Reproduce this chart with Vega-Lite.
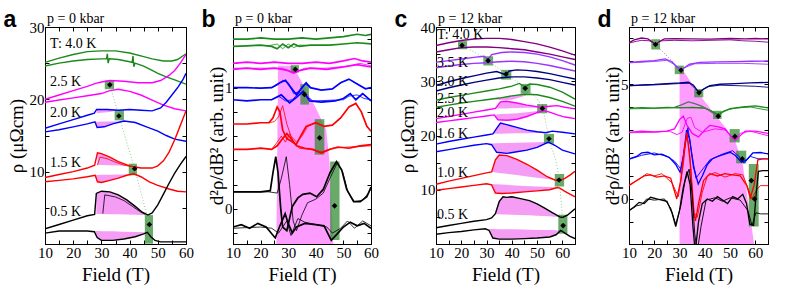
{
"$schema":"https://vega.github.io/schema/vega-lite/v6.json",
"padding":{"left":2,"top":8,"right":2,"bottom":2},
"config":{"view":{"stroke":"black","strokeWidth":1},"font":"Liberation Serif",
"axis":{"labelFont":"Liberation Serif","titleFont":"Liberation Serif","labelFontSize":15,"titleFontSize":19,"titleFontWeight":"normal","labelColor":"black","titleColor":"black","tickColor":"black","domainColor":"black","grid":false,"tickSize":-4,"labelPadding":5,"labelFlush":false,"labelOverlap":false,"labelAngle":0},
"axisBottom":{"labelPadding":5,"titlePadding":5},
"title":{"font":"Liberation Serif","fontSize":14,"fontWeight":"normal","color":"black","anchor":"start","frame":"group","offset":1}},
"datasets":{
"a_lines":[
{"k":"a40u","T":"4.0 K","w":"thick","x":10,"y":25.1},{"k":"a40u","T":"4.0 K","w":"thick","x":15,"y":25.7},{"k":"a40u","T":"4.0 K","w":"thick","x":20,"y":26.2},{"k":"a40u","T":"4.0 K","w":"thick","x":25,"y":26.6},{"k":"a40u","T":"4.0 K","w":"thick","x":30,"y":26.7},{"k":"a40u","T":"4.0 K","w":"thick","x":35,"y":26.7},{"k":"a40u","T":"4.0 K","w":"thick","x":40,"y":26.4},{"k":"a40u","T":"4.0 K","w":"thick","x":45,"y":25.9},{"k":"a40u","T":"4.0 K","w":"thick","x":48,"y":25.6},{"k":"a40u","T":"4.0 K","w":"thick","x":52,"y":25.3},{"k":"a40u","T":"4.0 K","w":"thick","x":55,"y":25.3},{"k":"a40u","T":"4.0 K","w":"thick","x":57,"y":25.5},{"k":"a40u","T":"4.0 K","w":"thick","x":60,"y":26.3},
{"k":"a40l","T":"4.0 K","w":"thick","x":10,"y":24.6},{"k":"a40l","T":"4.0 K","w":"thick","x":15,"y":25.0},{"k":"a40l","T":"4.0 K","w":"thick","x":20,"y":25.3},{"k":"a40l","T":"4.0 K","w":"thick","x":25,"y":25.5},{"k":"a40l","T":"4.0 K","w":"thick","x":30,"y":25.6},{"k":"a40l","T":"4.0 K","w":"thick","x":31.8,"y":25.6},{"k":"a40l","T":"4.0 K","w":"thick","x":32.1,"y":26.3},{"k":"a40l","T":"4.0 K","w":"thick","x":32.4,"y":25.0},{"k":"a40l","T":"4.0 K","w":"thick","x":32.8,"y":25.6},{"k":"a40l","T":"4.0 K","w":"thick","x":36,"y":25.5},{"k":"a40l","T":"4.0 K","w":"thick","x":40,"y":25.2},{"k":"a40l","T":"4.0 K","w":"thick","x":40.9,"y":25.1},{"k":"a40l","T":"4.0 K","w":"thick","x":41.2,"y":26.0},{"k":"a40l","T":"4.0 K","w":"thick","x":41.5,"y":24.5},{"k":"a40l","T":"4.0 K","w":"thick","x":41.9,"y":25.0},{"k":"a40l","T":"4.0 K","w":"thick","x":45,"y":24.6},{"k":"a40l","T":"4.0 K","w":"thick","x":48,"y":24.0},{"k":"a40l","T":"4.0 K","w":"thick","x":50,"y":23.6},{"k":"a40l","T":"4.0 K","w":"thick","x":53,"y":23.1},{"k":"a40l","T":"4.0 K","w":"thick","x":56,"y":22.7},{"k":"a40l","T":"4.0 K","w":"thick","x":60,"y":22.1},
{"k":"a25u","T":"2.5 K","w":"thick","x":10,"y":20.0},{"k":"a25u","T":"2.5 K","w":"thick","x":15,"y":20.6},{"k":"a25u","T":"2.5 K","w":"thick","x":20,"y":21.2},{"k":"a25u","T":"2.5 K","w":"thick","x":25,"y":21.8},{"k":"a25u","T":"2.5 K","w":"thick","x":28,"y":22.2},{"k":"a25u","T":"2.5 K","w":"thick","x":30,"y":22.4},{"k":"a25u","T":"2.5 K","w":"thick","x":33,"y":22.6},{"k":"a25u","T":"2.5 K","w":"thick","x":38,"y":22.5},{"k":"a25u","T":"2.5 K","w":"thick","x":43,"y":22.3},{"k":"a25u","T":"2.5 K","w":"thick","x":48,"y":22.3},{"k":"a25u","T":"2.5 K","w":"thick","x":51,"y":22.6},{"k":"a25u","T":"2.5 K","w":"thick","x":54,"y":23.3},{"k":"a25u","T":"2.5 K","w":"thick","x":56,"y":24.0},{"k":"a25u","T":"2.5 K","w":"thick","x":58,"y":25.0},{"k":"a25u","T":"2.5 K","w":"thick","x":60,"y":26.2},
{"k":"a25l","T":"2.5 K","w":"thick","x":10,"y":19.6},{"k":"a25l","T":"2.5 K","w":"thick","x":15,"y":19.9},{"k":"a25l","T":"2.5 K","w":"thick","x":20,"y":20.2},{"k":"a25l","T":"2.5 K","w":"thick","x":25,"y":20.5},{"k":"a25l","T":"2.5 K","w":"thick","x":30,"y":20.8},{"k":"a25l","T":"2.5 K","w":"thick","x":33,"y":21.2},{"k":"a25l","T":"2.5 K","w":"thick","x":36,"y":21.4},{"k":"a25l","T":"2.5 K","w":"thick","x":40,"y":21.1},{"k":"a25l","T":"2.5 K","w":"thick","x":44,"y":20.6},{"k":"a25l","T":"2.5 K","w":"thick","x":48,"y":19.9},{"k":"a25l","T":"2.5 K","w":"thick","x":52,"y":19.2},{"k":"a25l","T":"2.5 K","w":"thick","x":56,"y":18.7},{"k":"a25l","T":"2.5 K","w":"thick","x":60,"y":18.4},
{"k":"a20u","T":"2.0 K","w":"thick","x":10,"y":16.0},{"k":"a20u","T":"2.0 K","w":"thick","x":15,"y":16.6},{"k":"a20u","T":"2.0 K","w":"thick","x":20,"y":17.2},{"k":"a20u","T":"2.0 K","w":"thick","x":25,"y":17.8},{"k":"a20u","T":"2.0 K","w":"thick","x":27.5,"y":18.1},{"k":"a20u","T":"2.0 K","w":"thick","x":28.3,"y":18.6},{"k":"a20u","T":"2.0 K","w":"thick","x":32,"y":18.6},{"k":"a20u","T":"2.0 K","w":"thick","x":36,"y":18.5},{"k":"a20u","T":"2.0 K","w":"thick","x":40,"y":18.6},{"k":"a20u","T":"2.0 K","w":"thick","x":44,"y":18.5},{"k":"a20u","T":"2.0 K","w":"thick","x":48,"y":18.4},{"k":"a20u","T":"2.0 K","w":"thick","x":51,"y":18.8},{"k":"a20u","T":"2.0 K","w":"thick","x":53,"y":19.6},{"k":"a20u","T":"2.0 K","w":"thick","x":55,"y":20.6},{"k":"a20u","T":"2.0 K","w":"thick","x":57,"y":21.6},{"k":"a20u","T":"2.0 K","w":"thick","x":59,"y":22.8},{"k":"a20u","T":"2.0 K","w":"thick","x":60,"y":23.6},
{"k":"a20l","T":"2.0 K","w":"thick","x":10,"y":15.5},{"k":"a20l","T":"2.0 K","w":"thick","x":15,"y":15.8},{"k":"a20l","T":"2.0 K","w":"thick","x":20,"y":16.2},{"k":"a20l","T":"2.0 K","w":"thick","x":25,"y":16.6},{"k":"a20l","T":"2.0 K","w":"thick","x":27.7,"y":16.9},{"k":"a20l","T":"2.0 K","w":"thick","x":28.5,"y":16.1},{"k":"a20l","T":"2.0 K","w":"thick","x":31,"y":16.2},{"k":"a20l","T":"2.0 K","w":"thick","x":34,"y":16.6},{"k":"a20l","T":"2.0 K","w":"thick","x":38,"y":17.0},{"k":"a20l","T":"2.0 K","w":"thick","x":42,"y":16.8},{"k":"a20l","T":"2.0 K","w":"thick","x":46,"y":16.2},{"k":"a20l","T":"2.0 K","w":"thick","x":50,"y":15.6},{"k":"a20l","T":"2.0 K","w":"thick","x":53,"y":15.0},{"k":"a20l","T":"2.0 K","w":"thick","x":56,"y":14.5},{"k":"a20l","T":"2.0 K","w":"thick","x":60,"y":14.2},
{"k":"a15u","T":"1.5 K","w":"thick","x":10,"y":9.2},{"k":"a15u","T":"1.5 K","w":"thick","x":15,"y":9.6},{"k":"a15u","T":"1.5 K","w":"thick","x":20,"y":10.0},{"k":"a15u","T":"1.5 K","w":"thick","x":25,"y":10.5},{"k":"a15u","T":"1.5 K","w":"thick","x":27.6,"y":10.9},{"k":"a15u","T":"1.5 K","w":"thick","x":28.6,"y":12.6},{"k":"a15u","T":"1.5 K","w":"thick","x":30,"y":12.5},{"k":"a15u","T":"1.5 K","w":"thick","x":33,"y":12.0},{"k":"a15u","T":"1.5 K","w":"thick","x":36,"y":11.4},{"k":"a15u","T":"1.5 K","w":"thick","x":40,"y":10.8},{"k":"a15u","T":"1.5 K","w":"thick","x":44,"y":10.5},{"k":"a15u","T":"1.5 K","w":"thick","x":48,"y":10.5},{"k":"a15u","T":"1.5 K","w":"thick","x":50,"y":10.8},{"k":"a15u","T":"1.5 K","w":"thick","x":52,"y":11.5},{"k":"a15u","T":"1.5 K","w":"thick","x":54,"y":12.7},{"k":"a15u","T":"1.5 K","w":"thick","x":56,"y":14.4},{"k":"a15u","T":"1.5 K","w":"thick","x":58,"y":16.4},{"k":"a15u","T":"1.5 K","w":"thick","x":60,"y":18.4},
{"k":"a15t","T":"1.5 K","w":"thin","x":28.6,"y":10.9},{"k":"a15t","T":"1.5 K","w":"thin","x":29.5,"y":12.0},{"k":"a15t","T":"1.5 K","w":"thin","x":32,"y":11.8},{"k":"a15t","T":"1.5 K","w":"thin","x":35,"y":11.3},{"k":"a15t","T":"1.5 K","w":"thin","x":38,"y":10.9},{"k":"a15t","T":"1.5 K","w":"thin","x":40.5,"y":10.7},
{"k":"a15l","T":"1.5 K","w":"thick","x":10,"y":8.6},{"k":"a15l","T":"1.5 K","w":"thick","x":15,"y":8.8},{"k":"a15l","T":"1.5 K","w":"thick","x":20,"y":9.0},{"k":"a15l","T":"1.5 K","w":"thick","x":25,"y":9.3},{"k":"a15l","T":"1.5 K","w":"thick","x":27.8,"y":9.5},{"k":"a15l","T":"1.5 K","w":"thick","x":28.6,"y":8.6},{"k":"a15l","T":"1.5 K","w":"thick","x":30,"y":8.5},{"k":"a15l","T":"1.5 K","w":"thick","x":33,"y":8.8},{"k":"a15l","T":"1.5 K","w":"thick","x":36,"y":9.1},{"k":"a15l","T":"1.5 K","w":"thick","x":39,"y":9.5},{"k":"a15l","T":"1.5 K","w":"thick","x":41.5,"y":9.7},{"k":"a15l","T":"1.5 K","w":"thick","x":44,"y":9.3},{"k":"a15l","T":"1.5 K","w":"thick","x":47,"y":8.6},{"k":"a15l","T":"1.5 K","w":"thick","x":50,"y":8.1},{"k":"a15l","T":"1.5 K","w":"thick","x":54,"y":7.6},{"k":"a15l","T":"1.5 K","w":"thick","x":57,"y":7.3},{"k":"a15l","T":"1.5 K","w":"thick","x":60,"y":7.2},
{"k":"a05u","T":"0.5 K","w":"thick","x":10,"y":2.1},{"k":"a05u","T":"0.5 K","w":"thick","x":15,"y":2.7},{"k":"a05u","T":"0.5 K","w":"thick","x":20,"y":3.3},{"k":"a05u","T":"0.5 K","w":"thick","x":25,"y":3.9},{"k":"a05u","T":"0.5 K","w":"thick","x":27.6,"y":4.1},{"k":"a05u","T":"0.5 K","w":"thick","x":28.2,"y":7.0},{"k":"a05u","T":"0.5 K","w":"thick","x":30,"y":7.3},{"k":"a05u","T":"0.5 K","w":"thick","x":33,"y":7.2},{"k":"a05u","T":"0.5 K","w":"thick","x":36,"y":6.8},{"k":"a05u","T":"0.5 K","w":"thick","x":39,"y":6.1},{"k":"a05u","T":"0.5 K","w":"thick","x":42,"y":5.2},{"k":"a05u","T":"0.5 K","w":"thick","x":44.5,"y":4.4},{"k":"a05u","T":"0.5 K","w":"thick","x":46.5,"y":4.0},{"k":"a05u","T":"0.5 K","w":"thick","x":48,"y":4.3},{"k":"a05u","T":"0.5 K","w":"thick","x":50,"y":5.4},{"k":"a05u","T":"0.5 K","w":"thick","x":52,"y":6.9},{"k":"a05u","T":"0.5 K","w":"thick","x":54,"y":8.4},{"k":"a05u","T":"0.5 K","w":"thick","x":56,"y":9.8},{"k":"a05u","T":"0.5 K","w":"thick","x":58,"y":11.0},{"k":"a05u","T":"0.5 K","w":"thick","x":60,"y":12.1},
{"k":"a05t","T":"0.5 K","w":"thin","x":30.5,"y":4.2},{"k":"a05t","T":"0.5 K","w":"thin","x":31.2,"y":6.8},{"k":"a05t","T":"0.5 K","w":"thin","x":35,"y":6.5},{"k":"a05t","T":"0.5 K","w":"thin","x":38,"y":6.0},{"k":"a05t","T":"0.5 K","w":"thin","x":41,"y":5.2},{"k":"a05t","T":"0.5 K","w":"thin","x":44,"y":4.4},{"k":"a05t","T":"0.5 K","w":"thin","x":45.5,"y":4.1},
{"k":"a05l","T":"0.5 K","w":"thick","x":10,"y":1.5},{"k":"a05l","T":"0.5 K","w":"thick","x":15,"y":1.8},{"k":"a05l","T":"0.5 K","w":"thick","x":20,"y":1.8},{"k":"a05l","T":"0.5 K","w":"thick","x":25,"y":1.8},{"k":"a05l","T":"0.5 K","w":"thick","x":27.5,"y":1.7},{"k":"a05l","T":"0.5 K","w":"thick","x":28.5,"y":0.9},{"k":"a05l","T":"0.5 K","w":"thick","x":30,"y":0.5},{"k":"a05l","T":"0.5 K","w":"thick","x":34,"y":0.5},{"k":"a05l","T":"0.5 K","w":"thick","x":38,"y":0.7},{"k":"a05l","T":"0.5 K","w":"thick","x":42,"y":1.0},{"k":"a05l","T":"0.5 K","w":"thick","x":45,"y":1.4},{"k":"a05l","T":"0.5 K","w":"thick","x":46.3,"y":1.6},{"k":"a05l","T":"0.5 K","w":"thick","x":47.5,"y":1.0},{"k":"a05l","T":"0.5 K","w":"thick","x":49,"y":0.5},{"k":"a05l","T":"0.5 K","w":"thick","x":51,"y":0.3},{"k":"a05l","T":"0.5 K","w":"thick","x":55,"y":0.3},{"k":"a05l","T":"0.5 K","w":"thick","x":60,"y":0.3}
],
"a_fill":[
{"k":"f1","x":28.2,"y":7.0,"y2":4.15},{"k":"f1","x":30,"y":7.3,"y2":4.14},{"k":"f1","x":33,"y":7.2,"y2":4.12},{"k":"f1","x":36,"y":6.8,"y2":4.1},{"k":"f1","x":39,"y":6.1,"y2":4.08},{"k":"f1","x":42,"y":5.2,"y2":4.05},{"k":"f1","x":44.5,"y":4.4,"y2":4.02},{"k":"f1","x":46.5,"y":4.0,"y2":4.0},
{"k":"f2","x":27.8,"y":1.8,"y2":1.65},{"k":"f2","x":28.5,"y":1.79,"y2":0.9},{"k":"f2","x":30,"y":1.78,"y2":0.5},{"k":"f2","x":34,"y":1.75,"y2":0.5},{"k":"f2","x":38,"y":1.7,"y2":0.7},{"k":"f2","x":42,"y":1.66,"y2":1.0},{"k":"f2","x":45,"y":1.62,"y2":1.4},{"k":"f2","x":46.3,"y":1.6,"y2":1.6},
{"k":"f3","x":28.6,"y":12.6,"y2":10.95},{"k":"f3","x":30,"y":12.5,"y2":10.93},{"k":"f3","x":33,"y":12.0,"y2":10.9},{"k":"f3","x":36,"y":11.4,"y2":10.85},{"k":"f3","x":40,"y":10.8,"y2":10.8},{"k":"f3","x":41.5,"y":10.65,"y2":10.65},
{"k":"f4","x":27.8,"y":9.55,"y2":9.5},{"k":"f4","x":28.6,"y":9.55,"y2":8.6},{"k":"f4","x":30,"y":9.56,"y2":8.5},{"k":"f4","x":33,"y":9.58,"y2":8.8},{"k":"f4","x":36,"y":9.6,"y2":9.1},{"k":"f4","x":39,"y":9.62,"y2":9.5},{"k":"f4","x":40.5,"y":9.63,"y2":9.63},
{"k":"f5","x":28.3,"y":18.6,"y2":18.1},{"k":"f5","x":30,"y":18.6,"y2":18.15},{"k":"f5","x":33,"y":18.6,"y2":18.25},{"k":"f5","x":36,"y":18.5,"y2":18.5},
{"k":"f6","x":27.7,"y":16.9,"y2":16.85},{"k":"f6","x":28.5,"y":16.9,"y2":16.1},{"k":"f6","x":31,"y":16.92,"y2":16.2},{"k":"f6","x":34,"y":16.95,"y2":16.6},{"k":"f6","x":37,"y":16.98,"y2":16.95}
],
"a_rect":[{"x":31.2,"x2":34.5,"y":21.4,"y2":22.6},{"x":34.7,"x2":38,"y":17.1,"y2":18.5},{"x":39.7,"x2":42.6,"y":9.5,"y2":11.1},{"x":45.4,"x2":48.3,"y":0.05,"y2":4.0}],
"a_pts":[{"x":33.0,"y":22.0},{"x":36.2,"y":17.7},{"x":41.8,"y":10.4},{"x":47.0,"y":2.7}],
"a_lab":[{"x":11.8,"y":27.7,"t":"T: 4.0 K"},{"x":11.8,"y":22.4,"t":"2.5 K"},{"x":11.8,"y":18.1,"t":"2.0 K"},{"x":11.8,"y":11.2,"t":"1.5 K"},{"x":11.8,"y":4.4,"t":"0.5 K"}],
"b_lines":[
{"k":"bg1","T":"4.0 K","w":"thick","x":10,"y":1.40},{"k":"bg1","T":"4.0 K","w":"thick","x":15,"y":1.40},{"k":"bg1","T":"4.0 K","w":"thick","x":20,"y":1.41},{"k":"bg1","T":"4.0 K","w":"thick","x":25,"y":1.40},{"k":"bg1","T":"4.0 K","w":"thick","x":30,"y":1.40},{"k":"bg1","T":"4.0 K","w":"thick","x":35,"y":1.41},{"k":"bg1","T":"4.0 K","w":"thick","x":40,"y":1.40},{"k":"bg1","T":"4.0 K","w":"thick","x":45,"y":1.41},{"k":"bg1","T":"4.0 K","w":"thick","x":50,"y":1.42},{"k":"bg1","T":"4.0 K","w":"thick","x":55,"y":1.44},{"k":"bg1","T":"4.0 K","w":"thick","x":58,"y":1.43},{"k":"bg1","T":"4.0 K","w":"thick","x":60,"y":1.44},
{"k":"bg2","T":"4.0 K","w":"thick","x":10,"y":1.34},{"k":"bg2","T":"4.0 K","w":"thick","x":15,"y":1.345},{"k":"bg2","T":"4.0 K","w":"thick","x":20,"y":1.35},{"k":"bg2","T":"4.0 K","w":"thick","x":24,"y":1.34},{"k":"bg2","T":"4.0 K","w":"thick","x":26,"y":1.32},{"k":"bg2","T":"4.0 K","w":"thick","x":28,"y":1.36},{"k":"bg2","T":"4.0 K","w":"thick","x":30,"y":1.33},{"k":"bg2","T":"4.0 K","w":"thick","x":32,"y":1.36},{"k":"bg2","T":"4.0 K","w":"thick","x":34,"y":1.34},{"k":"bg2","T":"4.0 K","w":"thick","x":38,"y":1.35},{"k":"bg2","T":"4.0 K","w":"thick","x":45,"y":1.35},{"k":"bg2","T":"4.0 K","w":"thick","x":50,"y":1.36},{"k":"bg2","T":"4.0 K","w":"thick","x":55,"y":1.37},{"k":"bg2","T":"4.0 K","w":"thick","x":60,"y":1.36},
{"k":"bg2t","T":"4.0 K","w":"thin","x":22,"y":1.345},{"k":"bg2t","T":"4.0 K","w":"thin","x":24,"y":1.35},{"k":"bg2t","T":"4.0 K","w":"thin","x":26,"y":1.36},{"k":"bg2t","T":"4.0 K","w":"thin","x":28,"y":1.32},{"k":"bg2t","T":"4.0 K","w":"thin","x":30,"y":1.36},{"k":"bg2t","T":"4.0 K","w":"thin","x":32,"y":1.33},{"k":"bg2t","T":"4.0 K","w":"thin","x":34,"y":1.35},{"k":"bg2t","T":"4.0 K","w":"thin","x":36,"y":1.35},
{"k":"bm1","T":"2.5 K","w":"thick","x":10,"y":1.20},{"k":"bm1","T":"2.5 K","w":"thick","x":15,"y":1.21},{"k":"bm1","T":"2.5 K","w":"thick","x":20,"y":1.20},{"k":"bm1","T":"2.5 K","w":"thick","x":25,"y":1.21},{"k":"bm1","T":"2.5 K","w":"thick","x":30,"y":1.20},{"k":"bm1","T":"2.5 K","w":"thick","x":35,"y":1.20},{"k":"bm1","T":"2.5 K","w":"thick","x":40,"y":1.21},{"k":"bm1","T":"2.5 K","w":"thick","x":45,"y":1.20},{"k":"bm1","T":"2.5 K","w":"thick","x":50,"y":1.22},{"k":"bm1","T":"2.5 K","w":"thick","x":54,"y":1.24},{"k":"bm1","T":"2.5 K","w":"thick","x":57,"y":1.22},{"k":"bm1","T":"2.5 K","w":"thick","x":60,"y":1.21},
{"k":"bm2","T":"2.5 K","w":"thick","x":10,"y":1.15},{"k":"bm2","T":"2.5 K","w":"thick","x":15,"y":1.16},{"k":"bm2","T":"2.5 K","w":"thick","x":20,"y":1.15},{"k":"bm2","T":"2.5 K","w":"thick","x":25,"y":1.16},{"k":"bm2","T":"2.5 K","w":"thick","x":28,"y":1.15},{"k":"bm2","T":"2.5 K","w":"thick","x":30,"y":1.14},{"k":"bm2","T":"2.5 K","w":"thick","x":32,"y":1.12},{"k":"bm2","T":"2.5 K","w":"thick","x":34,"y":1.14},{"k":"bm2","T":"2.5 K","w":"thick","x":38,"y":1.16},{"k":"bm2","T":"2.5 K","w":"thick","x":44,"y":1.15},{"k":"bm2","T":"2.5 K","w":"thick","x":50,"y":1.17},{"k":"bm2","T":"2.5 K","w":"thick","x":55,"y":1.19},{"k":"bm2","T":"2.5 K","w":"thick","x":60,"y":1.17},
{"k":"bm2t","T":"2.5 K","w":"thin","x":10,"y":1.16},{"k":"bm2t","T":"2.5 K","w":"thin","x":20,"y":1.16},{"k":"bm2t","T":"2.5 K","w":"thin","x":28,"y":1.16},{"k":"bm2t","T":"2.5 K","w":"thin","x":31,"y":1.13},{"k":"bm2t","T":"2.5 K","w":"thin","x":33,"y":1.13},{"k":"bm2t","T":"2.5 K","w":"thin","x":36,"y":1.16},{"k":"bm2t","T":"2.5 K","w":"thin","x":44,"y":1.16},{"k":"bm2t","T":"2.5 K","w":"thin","x":52,"y":1.18},{"k":"bm2t","T":"2.5 K","w":"thin","x":56,"y":1.2},{"k":"bm2t","T":"2.5 K","w":"thin","x":60,"y":1.18},
{"k":"bb1","T":"2.0 K","w":"thick","x":10,"y":1.0},{"k":"bb1","T":"2.0 K","w":"thick","x":15,"y":1.0},{"k":"bb1","T":"2.0 K","w":"thick","x":20,"y":0.995},{"k":"bb1","T":"2.0 K","w":"thick","x":24,"y":1.0},{"k":"bb1","T":"2.0 K","w":"thick","x":27,"y":1.04},{"k":"bb1","T":"2.0 K","w":"thick","x":29,"y":1.06},{"k":"bb1","T":"2.0 K","w":"thick","x":31,"y":1.0},{"k":"bb1","T":"2.0 K","w":"thick","x":33,"y":0.94},{"k":"bb1","T":"2.0 K","w":"thick","x":35,"y":1.0},{"k":"bb1","T":"2.0 K","w":"thick","x":36.5,"y":1.04},{"k":"bb1","T":"2.0 K","w":"thick","x":38,"y":1.0},{"k":"bb1","T":"2.0 K","w":"thick","x":42,"y":0.98},{"k":"bb1","T":"2.0 K","w":"thick","x":46,"y":0.99},{"k":"bb1","T":"2.0 K","w":"thick","x":49,"y":1.04},{"k":"bb1","T":"2.0 K","w":"thick","x":52,"y":1.07},{"k":"bb1","T":"2.0 K","w":"thick","x":55,"y":1.03},{"k":"bb1","T":"2.0 K","w":"thick","x":58,"y":0.99},{"k":"bb1","T":"2.0 K","w":"thick","x":60,"y":1.0},
{"k":"bb1t","T":"2.0 K","w":"thin","x":24,"y":1.0},{"k":"bb1t","T":"2.0 K","w":"thin","x":26,"y":1.02},{"k":"bb1t","T":"2.0 K","w":"thin","x":28,"y":1.06},{"k":"bb1t","T":"2.0 K","w":"thin","x":30,"y":1.04},{"k":"bb1t","T":"2.0 K","w":"thin","x":32,"y":0.95},{"k":"bb1t","T":"2.0 K","w":"thin","x":34,"y":0.97},{"k":"bb1t","T":"2.0 K","w":"thin","x":36,"y":1.03},{"k":"bb1t","T":"2.0 K","w":"thin","x":38,"y":1.01},
{"k":"bb2","T":"2.0 K","w":"thick","x":10,"y":0.90},{"k":"bb2","T":"2.0 K","w":"thick","x":15,"y":0.89},{"k":"bb2","T":"2.0 K","w":"thick","x":20,"y":0.90},{"k":"bb2","T":"2.0 K","w":"thick","x":24,"y":0.9},{"k":"bb2","T":"2.0 K","w":"thick","x":27.5,"y":0.94},{"k":"bb2","T":"2.0 K","w":"thick","x":30.5,"y":0.875},{"k":"bb2","T":"2.0 K","w":"thick","x":33,"y":0.92},{"k":"bb2","T":"2.0 K","w":"thick","x":35.4,"y":0.97},{"k":"bb2","T":"2.0 K","w":"thick","x":37.8,"y":0.89},{"k":"bb2","T":"2.0 K","w":"thick","x":42,"y":0.88},{"k":"bb2","T":"2.0 K","w":"thick","x":47,"y":0.89},{"k":"bb2","T":"2.0 K","w":"thick","x":50,"y":0.91},{"k":"bb2","T":"2.0 K","w":"thick","x":52.5,"y":0.95},{"k":"bb2","T":"2.0 K","w":"thick","x":54.5,"y":0.9},{"k":"bb2","T":"2.0 K","w":"thick","x":57,"y":0.95},{"k":"bb2","T":"2.0 K","w":"thick","x":60,"y":0.89},
{"k":"bb2t","T":"2.0 K","w":"thin","x":24,"y":0.9},{"k":"bb2t","T":"2.0 K","w":"thin","x":26.5,"y":0.93},{"k":"bb2t","T":"2.0 K","w":"thin","x":29,"y":0.89},{"k":"bb2t","T":"2.0 K","w":"thin","x":31.5,"y":0.9},{"k":"bb2t","T":"2.0 K","w":"thin","x":34,"y":0.96},{"k":"bb2t","T":"2.0 K","w":"thin","x":36.5,"y":0.93},{"k":"bb2t","T":"2.0 K","w":"thin","x":39,"y":0.89},{"k":"bb2t","T":"2.0 K","w":"thin","x":50,"y":0.9},{"k":"bb2t","T":"2.0 K","w":"thin","x":52,"y":0.93},{"k":"bb2t","T":"2.0 K","w":"thin","x":55,"y":0.94},{"k":"bb2t","T":"2.0 K","w":"thin","x":57.5,"y":0.91},{"k":"bb2t","T":"2.0 K","w":"thin","x":60,"y":0.9},
{"k":"br1","T":"1.5 K","w":"thick","x":10,"y":0.70},{"k":"br1","T":"1.5 K","w":"thick","x":15,"y":0.70},{"k":"br1","T":"1.5 K","w":"thick","x":20,"y":0.71},{"k":"br1","T":"1.5 K","w":"thick","x":23,"y":0.71},{"k":"br1","T":"1.5 K","w":"thick","x":24.5,"y":0.75},{"k":"br1","T":"1.5 K","w":"thick","x":26,"y":0.84},{"k":"br1","T":"1.5 K","w":"thick","x":27,"y":0.80},{"k":"br1","T":"1.5 K","w":"thick","x":28,"y":0.65},{"k":"br1","T":"1.5 K","w":"thick","x":29.5,"y":0.58},{"k":"br1","T":"1.5 K","w":"thick","x":31,"y":0.56},{"k":"br1","T":"1.5 K","w":"thick","x":32.9,"y":0.53},{"k":"br1","T":"1.5 K","w":"thick","x":34.5,"y":0.6},{"k":"br1","T":"1.5 K","w":"thick","x":36.5,"y":0.68},{"k":"br1","T":"1.5 K","w":"thick","x":40,"y":0.71},{"k":"br1","T":"1.5 K","w":"thick","x":43,"y":0.68},{"k":"br1","T":"1.5 K","w":"thick","x":46,"y":0.69},{"k":"br1","T":"1.5 K","w":"thick","x":49,"y":0.75},{"k":"br1","T":"1.5 K","w":"thick","x":52,"y":0.84},{"k":"br1","T":"1.5 K","w":"thick","x":54.5,"y":0.87},{"k":"br1","T":"1.5 K","w":"thick","x":56.5,"y":0.8},{"k":"br1","T":"1.5 K","w":"thick","x":58.5,"y":0.68},{"k":"br1","T":"1.5 K","w":"thick","x":60,"y":0.64},
{"k":"br1t","T":"1.5 K","w":"thin","x":23,"y":0.71},{"k":"br1t","T":"1.5 K","w":"thin","x":25,"y":0.72},{"k":"br1t","T":"1.5 K","w":"thin","x":26.5,"y":0.76},{"k":"br1t","T":"1.5 K","w":"thin","x":28,"y":0.85},{"k":"br1t","T":"1.5 K","w":"thin","x":29.5,"y":0.7},{"k":"br1t","T":"1.5 K","w":"thin","x":31,"y":0.6},{"k":"br1t","T":"1.5 K","w":"thin","x":33,"y":0.55},{"k":"br1t","T":"1.5 K","w":"thin","x":35,"y":0.6},{"k":"br1t","T":"1.5 K","w":"thin","x":37,"y":0.68},{"k":"br1t","T":"1.5 K","w":"thin","x":40,"y":0.71},
{"k":"br2","T":"1.5 K","w":"thick","x":10,"y":0.49},{"k":"br2","T":"1.5 K","w":"thick","x":15,"y":0.49},{"k":"br2","T":"1.5 K","w":"thick","x":20,"y":0.50},{"k":"br2","T":"1.5 K","w":"thick","x":24,"y":0.49},{"k":"br2","T":"1.5 K","w":"thick","x":26,"y":0.52},{"k":"br2","T":"1.5 K","w":"thick","x":28,"y":0.58},{"k":"br2","T":"1.5 K","w":"thick","x":29.5,"y":0.62},{"k":"br2","T":"1.5 K","w":"thick","x":31,"y":0.58},{"k":"br2","T":"1.5 K","w":"thick","x":33,"y":0.52},{"k":"br2","T":"1.5 K","w":"thick","x":36,"y":0.5},{"k":"br2","T":"1.5 K","w":"thick","x":39,"y":0.49},{"k":"br2","T":"1.5 K","w":"thick","x":42,"y":0.46},{"k":"br2","T":"1.5 K","w":"thick","x":45,"y":0.49},{"k":"br2","T":"1.5 K","w":"thick","x":48,"y":0.51},{"k":"br2","T":"1.5 K","w":"thick","x":52,"y":0.50},{"k":"br2","T":"1.5 K","w":"thick","x":56,"y":0.52},{"k":"br2","T":"1.5 K","w":"thick","x":60,"y":0.53},
{"k":"br2t","T":"1.5 K","w":"thin","x":24,"y":0.49},{"k":"br2t","T":"1.5 K","w":"thin","x":26,"y":0.55},{"k":"br2t","T":"1.5 K","w":"thin","x":27.5,"y":0.6},{"k":"br2t","T":"1.5 K","w":"thin","x":29,"y":0.55},{"k":"br2t","T":"1.5 K","w":"thin","x":30.5,"y":0.62},{"k":"br2t","T":"1.5 K","w":"thin","x":32,"y":0.55},{"k":"br2t","T":"1.5 K","w":"thin","x":34,"y":0.5},{"k":"br2t","T":"1.5 K","w":"thin","x":38,"y":0.49},{"k":"br2t","T":"1.5 K","w":"thin","x":42,"y":0.47},{"k":"br2t","T":"1.5 K","w":"thin","x":46,"y":0.5},{"k":"br2t","T":"1.5 K","w":"thin","x":52,"y":0.51},{"k":"br2t","T":"1.5 K","w":"thin","x":60,"y":0.52},
{"k":"bk1","T":"0.5 K","w":"thick","x":10,"y":0.14},{"k":"bk1","T":"0.5 K","w":"thick","x":15,"y":0.14},{"k":"bk1","T":"0.5 K","w":"thick","x":20,"y":0.14},{"k":"bk1","T":"0.5 K","w":"thick","x":23.5,"y":0.15},{"k":"bk1","T":"0.5 K","w":"thick","x":24.5,"y":0.3},{"k":"bk1","T":"0.5 K","w":"thick","x":25.5,"y":0.43},{"k":"bk1","T":"0.5 K","w":"thick","x":26.3,"y":0.3},{"k":"bk1","T":"0.5 K","w":"thick","x":27.3,"y":0.0},{"k":"bk1","T":"0.5 K","w":"thick","x":28,"y":-0.15},{"k":"bk1","T":"0.5 K","w":"thick","x":29.5,"y":-0.18},{"k":"bk1","T":"0.5 K","w":"thick","x":31.5,"y":0.02},{"k":"bk1","T":"0.5 K","w":"thick","x":33.5,"y":0.09},{"k":"bk1","T":"0.5 K","w":"thick","x":35.3,"y":0.12},{"k":"bk1","T":"0.5 K","w":"thick","x":37.9,"y":0.13},{"k":"bk1","T":"0.5 K","w":"thick","x":40.3,"y":0.10},{"k":"bk1","T":"0.5 K","w":"thick","x":42.7,"y":0.16},{"k":"bk1","T":"0.5 K","w":"thick","x":45.2,"y":0.30},{"k":"bk1","T":"0.5 K","w":"thick","x":47.5,"y":0.39},{"k":"bk1","T":"0.5 K","w":"thick","x":49.4,"y":0.32},{"k":"bk1","T":"0.5 K","w":"thick","x":51.2,"y":0.16},{"k":"bk1","T":"0.5 K","w":"thick","x":53.7,"y":0.06},{"k":"bk1","T":"0.5 K","w":"thick","x":56.1,"y":0.06},{"k":"bk1","T":"0.5 K","w":"thick","x":58.5,"y":0.1},{"k":"bk1","T":"0.5 K","w":"thick","x":60,"y":0.18},
{"k":"bk1t","T":"0.5 K","w":"thin","x":10,"y":0.14},{"k":"bk1t","T":"0.5 K","w":"thin","x":23,"y":0.14},{"k":"bk1t","T":"0.5 K","w":"thin","x":26,"y":0.13},{"k":"bk1t","T":"0.5 K","w":"thin","x":27.5,"y":0.25},{"k":"bk1t","T":"0.5 K","w":"thin","x":29.3,"y":0.43},{"k":"bk1t","T":"0.5 K","w":"thin","x":30.5,"y":0.2},{"k":"bk1t","T":"0.5 K","w":"thin","x":31.8,"y":-0.1},{"k":"bk1t","T":"0.5 K","w":"thin","x":33,"y":-0.18},{"k":"bk1t","T":"0.5 K","w":"thin","x":35,"y":-0.05},{"k":"bk1t","T":"0.5 K","w":"thin","x":37,"y":0.05},{"k":"bk1t","T":"0.5 K","w":"thin","x":40,"y":0.08},{"k":"bk1t","T":"0.5 K","w":"thin","x":42.7,"y":0.13},{"k":"bk1t","T":"0.5 K","w":"thin","x":45.5,"y":0.27},{"k":"bk1t","T":"0.5 K","w":"thin","x":47.8,"y":0.38},{"k":"bk1t","T":"0.5 K","w":"thin","x":49.8,"y":0.3},{"k":"bk1t","T":"0.5 K","w":"thin","x":51.6,"y":0.14},{"k":"bk1t","T":"0.5 K","w":"thin","x":54,"y":0.06},{"k":"bk1t","T":"0.5 K","w":"thin","x":57,"y":0.07},{"k":"bk1t","T":"0.5 K","w":"thin","x":60,"y":0.16},
{"k":"bk2","T":"0.5 K","w":"thick","x":10,"y":-0.15},{"k":"bk2","T":"0.5 K","w":"thick","x":13,"y":-0.13},{"k":"bk2","T":"0.5 K","w":"thick","x":16,"y":-0.16},{"k":"bk2","T":"0.5 K","w":"thick","x":19,"y":-0.12},{"k":"bk2","T":"0.5 K","w":"thick","x":22,"y":-0.15},{"k":"bk2","T":"0.5 K","w":"thick","x":25.3,"y":-0.24},{"k":"bk2","T":"0.5 K","w":"thick","x":27,"y":-0.14},{"k":"bk2","T":"0.5 K","w":"thick","x":28.9,"y":-0.04},{"k":"bk2","T":"0.5 K","w":"thick","x":30,"y":-0.12},{"k":"bk2","T":"0.5 K","w":"thick","x":31.5,"y":-0.2},{"k":"bk2","T":"0.5 K","w":"thick","x":33,"y":-0.15},{"k":"bk2","T":"0.5 K","w":"thick","x":36,"y":-0.12},{"k":"bk2","T":"0.5 K","w":"thick","x":40,"y":-0.13},{"k":"bk2","T":"0.5 K","w":"thick","x":43,"y":-0.14},{"k":"bk2","T":"0.5 K","w":"thick","x":45.6,"y":-0.26},{"k":"bk2","T":"0.5 K","w":"thick","x":48,"y":-0.2},{"k":"bk2","T":"0.5 K","w":"thick","x":50,"y":-0.15},{"k":"bk2","T":"0.5 K","w":"thick","x":52.5,"y":-0.11},{"k":"bk2","T":"0.5 K","w":"thick","x":55,"y":-0.14},{"k":"bk2","T":"0.5 K","w":"thick","x":57.5,"y":-0.12},{"k":"bk2","T":"0.5 K","w":"thick","x":60,"y":-0.16},
{"k":"bk2t","T":"0.5 K","w":"thin","x":10,"y":-0.16},{"k":"bk2t","T":"0.5 K","w":"thin","x":20,"y":-0.15},{"k":"bk2t","T":"0.5 K","w":"thin","x":24,"y":-0.16},{"k":"bk2t","T":"0.5 K","w":"thin","x":26.5,"y":-0.2},{"k":"bk2t","T":"0.5 K","w":"thin","x":29.5,"y":-0.1},{"k":"bk2t","T":"0.5 K","w":"thin","x":31,"y":-0.22},{"k":"bk2t","T":"0.5 K","w":"thin","x":33.5,"y":-0.08},{"k":"bk2t","T":"0.5 K","w":"thin","x":36,"y":-0.11},{"k":"bk2t","T":"0.5 K","w":"thin","x":40,"y":-0.13},{"k":"bk2t","T":"0.5 K","w":"thin","x":44,"y":-0.15},{"k":"bk2t","T":"0.5 K","w":"thin","x":46,"y":-0.2},{"k":"bk2t","T":"0.5 K","w":"thin","x":49,"y":-0.16},{"k":"bk2t","T":"0.5 K","w":"thin","x":51.5,"y":-0.1},{"k":"bk2t","T":"0.5 K","w":"thin","x":54,"y":-0.16},{"k":"bk2t","T":"0.5 K","w":"thin","x":57,"y":-0.1},{"k":"bk2t","T":"0.5 K","w":"thin","x":60,"y":-0.14}
],
"b_fill":[{"y":1.18,"x":26.3,"x2":31.7},{"y":0.85,"x":26.2,"x2":39.6},{"y":0.65,"x":26.1,"x2":43.8},{"y":0.38,"x":26.0,"x2":45.0},{"y":-0.29,"x":25.7,"x2":46.3}],
"b_rect":[{"x":30.9,"x2":33.9,"y":1.124,"y2":1.185},{"x":34.4,"x2":37.5,"y":0.86,"y2":1.027},{"x":39.6,"x2":43.1,"y":0.447,"y2":0.74},{"x":45.2,"x2":48.6,"y":-0.257,"y2":0.39}],
"b_pts":[{"x":32.6,"y":1.15},{"x":35.9,"y":0.944},{"x":41.4,"y":0.585},{"x":46.8,"y":0.025}],
"c_lines":[
{"k":"c40u","T":"4.0 K","w":"thick","x":10,"y":36.6},{"k":"c40u","T":"4.0 K","w":"thick","x":15,"y":37.1},{"k":"c40u","T":"4.0 K","w":"thick","x":20,"y":37.5},{"k":"c40u","T":"4.0 K","w":"thick","x":25,"y":37.8},{"k":"c40u","T":"4.0 K","w":"thick","x":30,"y":37.9},{"k":"c40u","T":"4.0 K","w":"thick","x":35,"y":37.9},{"k":"c40u","T":"4.0 K","w":"thick","x":40,"y":37.7},{"k":"c40u","T":"4.0 K","w":"thick","x":45,"y":37.3},{"k":"c40u","T":"4.0 K","w":"thick","x":50,"y":36.9},{"k":"c40u","T":"4.0 K","w":"thick","x":55,"y":36.3},{"k":"c40u","T":"4.0 K","w":"thick","x":60,"y":35.6},{"k":"c40u","T":"4.0 K","w":"thick","x":65,"y":34.8},
{"k":"c40l","T":"4.0 K","w":"thick","x":10,"y":35.4},{"k":"c40l","T":"4.0 K","w":"thick","x":15,"y":35.8},{"k":"c40l","T":"4.0 K","w":"thick","x":20,"y":36.2},{"k":"c40l","T":"4.0 K","w":"thick","x":25,"y":36.3},{"k":"c40l","T":"4.0 K","w":"thick","x":30,"y":36.3},{"k":"c40l","T":"4.0 K","w":"thick","x":35,"y":36.2},{"k":"c40l","T":"4.0 K","w":"thick","x":40,"y":36.0},{"k":"c40l","T":"4.0 K","w":"thick","x":45,"y":35.8},{"k":"c40l","T":"4.0 K","w":"thick","x":50,"y":35.4},{"k":"c40l","T":"4.0 K","w":"thick","x":55,"y":35.0},{"k":"c40l","T":"4.0 K","w":"thick","x":60,"y":34.5},{"k":"c40l","T":"4.0 K","w":"thick","x":65,"y":34.0},
{"k":"c35u","T":"3.5 K","w":"thick","x":10,"y":33.5},{"k":"c35u","T":"3.5 K","w":"thick","x":15,"y":33.8},{"k":"c35u","T":"3.5 K","w":"thick","x":20,"y":34.1},{"k":"c35u","T":"3.5 K","w":"thick","x":25,"y":34.4},{"k":"c35u","T":"3.5 K","w":"thick","x":29,"y":34.6},{"k":"c35u","T":"3.5 K","w":"thick","x":30.6,"y":34.0},{"k":"c35u","T":"3.5 K","w":"thick","x":32,"y":34.9},{"k":"c35u","T":"3.5 K","w":"thick","x":36,"y":35.3},{"k":"c35u","T":"3.5 K","w":"thick","x":40,"y":35.4},{"k":"c35u","T":"3.5 K","w":"thick","x":45,"y":35.3},{"k":"c35u","T":"3.5 K","w":"thick","x":50,"y":35.0},{"k":"c35u","T":"3.5 K","w":"thick","x":55,"y":34.5},{"k":"c35u","T":"3.5 K","w":"thick","x":60,"y":33.8},{"k":"c35u","T":"3.5 K","w":"thick","x":65,"y":33.0},
{"k":"c35l","T":"3.5 K","w":"thick","x":10,"y":32.5},{"k":"c35l","T":"3.5 K","w":"thick","x":15,"y":32.8},{"k":"c35l","T":"3.5 K","w":"thick","x":20,"y":33.1},{"k":"c35l","T":"3.5 K","w":"thick","x":25,"y":33.3},{"k":"c35l","T":"3.5 K","w":"thick","x":30,"y":33.4},{"k":"c35l","T":"3.5 K","w":"thick","x":35,"y":33.6},{"k":"c35l","T":"3.5 K","w":"thick","x":40,"y":33.7},{"k":"c35l","T":"3.5 K","w":"thick","x":45,"y":33.6},{"k":"c35l","T":"3.5 K","w":"thick","x":50,"y":33.3},{"k":"c35l","T":"3.5 K","w":"thick","x":55,"y":32.9},{"k":"c35l","T":"3.5 K","w":"thick","x":60,"y":32.4},{"k":"c35l","T":"3.5 K","w":"thick","x":65,"y":31.9},
{"k":"c30u","T":"3.0 K","w":"thick","x":10,"y":29.2},{"k":"c30u","T":"3.0 K","w":"thick","x":15,"y":29.9},{"k":"c30u","T":"3.0 K","w":"thick","x":20,"y":30.5},{"k":"c30u","T":"3.0 K","w":"thick","x":25,"y":31.0},{"k":"c30u","T":"3.0 K","w":"thick","x":30,"y":31.5},{"k":"c30u","T":"3.0 K","w":"thick","x":34,"y":31.8},{"k":"c30u","T":"3.0 K","w":"thick","x":37.5,"y":31.2},{"k":"c30u","T":"3.0 K","w":"thick","x":39,"y":31.9},{"k":"c30u","T":"3.0 K","w":"thick","x":42,"y":32.1},{"k":"c30u","T":"3.0 K","w":"thick","x":46,"y":32.0},{"k":"c30u","T":"3.0 K","w":"thick","x":50,"y":31.8},{"k":"c30u","T":"3.0 K","w":"thick","x":55,"y":31.4},{"k":"c30u","T":"3.0 K","w":"thick","x":60,"y":30.9},{"k":"c30u","T":"3.0 K","w":"thick","x":65,"y":30.4},
{"k":"c30l","T":"3.0 K","w":"thick","x":10,"y":28.2},{"k":"c30l","T":"3.0 K","w":"thick","x":15,"y":28.8},{"k":"c30l","T":"3.0 K","w":"thick","x":20,"y":29.3},{"k":"c30l","T":"3.0 K","w":"thick","x":25,"y":29.8},{"k":"c30l","T":"3.0 K","w":"thick","x":30,"y":30.2},{"k":"c30l","T":"3.0 K","w":"thick","x":35,"y":30.6},{"k":"c30l","T":"3.0 K","w":"thick","x":40,"y":30.8},{"k":"c30l","T":"3.0 K","w":"thick","x":45,"y":30.8},{"k":"c30l","T":"3.0 K","w":"thick","x":50,"y":30.6},{"k":"c30l","T":"3.0 K","w":"thick","x":55,"y":30.3},{"k":"c30l","T":"3.0 K","w":"thick","x":60,"y":29.8},{"k":"c30l","T":"3.0 K","w":"thick","x":65,"y":29.3},
{"k":"c25u","T":"2.5 K","w":"thick","x":10,"y":26.5},{"k":"c25u","T":"2.5 K","w":"thick","x":15,"y":27.0},{"k":"c25u","T":"2.5 K","w":"thick","x":20,"y":27.4},{"k":"c25u","T":"2.5 K","w":"thick","x":25,"y":27.8},{"k":"c25u","T":"2.5 K","w":"thick","x":30,"y":28.2},{"k":"c25u","T":"2.5 K","w":"thick","x":35,"y":28.6},{"k":"c25u","T":"2.5 K","w":"thick","x":40,"y":29.1},{"k":"c25u","T":"2.5 K","w":"thick","x":43,"y":29.6},{"k":"c25u","T":"2.5 K","w":"thick","x":45.2,"y":28.9},{"k":"c25u","T":"2.5 K","w":"thick","x":47,"y":29.5},{"k":"c25u","T":"2.5 K","w":"thick","x":50,"y":29.4},{"k":"c25u","T":"2.5 K","w":"thick","x":55,"y":28.9},{"k":"c25u","T":"2.5 K","w":"thick","x":60,"y":28.0},{"k":"c25u","T":"2.5 K","w":"thick","x":65,"y":26.7},
{"k":"c25l","T":"2.5 K","w":"thick","x":10,"y":25.2},{"k":"c25l","T":"2.5 K","w":"thick","x":15,"y":25.6},{"k":"c25l","T":"2.5 K","w":"thick","x":20,"y":26.0},{"k":"c25l","T":"2.5 K","w":"thick","x":25,"y":26.3},{"k":"c25l","T":"2.5 K","w":"thick","x":30,"y":26.6},{"k":"c25l","T":"2.5 K","w":"thick","x":35,"y":26.9},{"k":"c25l","T":"2.5 K","w":"thick","x":40,"y":27.3},{"k":"c25l","T":"2.5 K","w":"thick","x":45,"y":27.6},{"k":"c25l","T":"2.5 K","w":"thick","x":50,"y":27.5},{"k":"c25l","T":"2.5 K","w":"thick","x":55,"y":27.0},{"k":"c25l","T":"2.5 K","w":"thick","x":60,"y":26.3},{"k":"c25l","T":"2.5 K","w":"thick","x":65,"y":25.4},
{"k":"c20u","T":"2.0 K","w":"thick","x":10,"y":23.1},{"k":"c20u","T":"2.0 K","w":"thick","x":15,"y":23.5},{"k":"c20u","T":"2.0 K","w":"thick","x":20,"y":23.9},{"k":"c20u","T":"2.0 K","w":"thick","x":25,"y":24.3},{"k":"c20u","T":"2.0 K","w":"thick","x":30,"y":24.7},{"k":"c20u","T":"2.0 K","w":"thick","x":33.5,"y":25.0},{"k":"c20u","T":"2.0 K","w":"thick","x":35.5,"y":26.2},{"k":"c20u","T":"2.0 K","w":"thick","x":38,"y":26.3},{"k":"c20u","T":"2.0 K","w":"thick","x":42,"y":26.0},{"k":"c20u","T":"2.0 K","w":"thick","x":46,"y":25.6},{"k":"c20u","T":"2.0 K","w":"thick","x":50,"y":25.3},{"k":"c20u","T":"2.0 K","w":"thick","x":52,"y":25.2},{"k":"c20u","T":"2.0 K","w":"thick","x":55,"y":25.4},{"k":"c20u","T":"2.0 K","w":"thick","x":58,"y":25.5},{"k":"c20u","T":"2.0 K","w":"thick","x":61,"y":25.2},{"k":"c20u","T":"2.0 K","w":"thick","x":65,"y":24.9},
{"k":"c20l","T":"2.0 K","w":"thick","x":10,"y":22.4},{"k":"c20l","T":"2.0 K","w":"thick","x":15,"y":22.7},{"k":"c20l","T":"2.0 K","w":"thick","x":20,"y":23.0},{"k":"c20l","T":"2.0 K","w":"thick","x":25,"y":23.3},{"k":"c20l","T":"2.0 K","w":"thick","x":30,"y":23.6},{"k":"c20l","T":"2.0 K","w":"thick","x":33,"y":23.8},{"k":"c20l","T":"2.0 K","w":"thick","x":34.5,"y":22.9},{"k":"c20l","T":"2.0 K","w":"thick","x":38,"y":22.8},{"k":"c20l","T":"2.0 K","w":"thick","x":42,"y":23.0},{"k":"c20l","T":"2.0 K","w":"thick","x":46,"y":23.5},{"k":"c20l","T":"2.0 K","w":"thick","x":50,"y":24.2},{"k":"c20l","T":"2.0 K","w":"thick","x":52.5,"y":24.6},{"k":"c20l","T":"2.0 K","w":"thick","x":55,"y":24.3},{"k":"c20l","T":"2.0 K","w":"thick","x":58,"y":23.8},{"k":"c20l","T":"2.0 K","w":"thick","x":61,"y":23.4},{"k":"c20l","T":"2.0 K","w":"thick","x":65,"y":23.1},
{"k":"c16u","T":"1.6 K","w":"thick","x":10,"y":18.4},{"k":"c16u","T":"1.6 K","w":"thick","x":15,"y":18.9},{"k":"c16u","T":"1.6 K","w":"thick","x":20,"y":19.3},{"k":"c16u","T":"1.6 K","w":"thick","x":25,"y":19.7},{"k":"c16u","T":"1.6 K","w":"thick","x":30,"y":20.1},{"k":"c16u","T":"1.6 K","w":"thick","x":32.5,"y":20.3},{"k":"c16u","T":"1.6 K","w":"thick","x":34,"y":21.3},{"k":"c16u","T":"1.6 K","w":"thick","x":35.5,"y":22.3},{"k":"c16u","T":"1.6 K","w":"thick","x":38,"y":22.0},{"k":"c16u","T":"1.6 K","w":"thick","x":42,"y":21.5},{"k":"c16u","T":"1.6 K","w":"thick","x":46,"y":21.0},{"k":"c16u","T":"1.6 K","w":"thick","x":50,"y":20.7},{"k":"c16u","T":"1.6 K","w":"thick","x":53.5,"y":20.5},{"k":"c16u","T":"1.6 K","w":"thick","x":56,"y":20.8},{"k":"c16u","T":"1.6 K","w":"thick","x":60,"y":20.6},{"k":"c16u","T":"1.6 K","w":"thick","x":65,"y":20.3},
{"k":"c16l","T":"1.6 K","w":"thick","x":10,"y":17.0},{"k":"c16l","T":"1.6 K","w":"thick","x":15,"y":17.4},{"k":"c16l","T":"1.6 K","w":"thick","x":20,"y":17.8},{"k":"c16l","T":"1.6 K","w":"thick","x":25,"y":18.2},{"k":"c16l","T":"1.6 K","w":"thick","x":30,"y":18.5},{"k":"c16l","T":"1.6 K","w":"thick","x":32,"y":18.3},{"k":"c16l","T":"1.6 K","w":"thick","x":34,"y":16.9},{"k":"c16l","T":"1.6 K","w":"thick","x":38,"y":16.7},{"k":"c16l","T":"1.6 K","w":"thick","x":42,"y":17.0},{"k":"c16l","T":"1.6 K","w":"thick","x":46,"y":17.3},{"k":"c16l","T":"1.6 K","w":"thick","x":50,"y":17.8},{"k":"c16l","T":"1.6 K","w":"thick","x":54.5,"y":18.8},{"k":"c16l","T":"1.6 K","w":"thick","x":57,"y":18.2},{"k":"c16l","T":"1.6 K","w":"thick","x":60,"y":17.3},{"k":"c16l","T":"1.6 K","w":"thick","x":65,"y":16.6},
{"k":"c10u","T":"1.0 K","w":"thick","x":10,"y":11.0},{"k":"c10u","T":"1.0 K","w":"thick","x":15,"y":11.6},{"k":"c10u","T":"1.0 K","w":"thick","x":20,"y":12.1},{"k":"c10u","T":"1.0 K","w":"thick","x":25,"y":12.6},{"k":"c10u","T":"1.0 K","w":"thick","x":30,"y":13.1},{"k":"c10u","T":"1.0 K","w":"thick","x":32,"y":13.3},{"k":"c10u","T":"1.0 K","w":"thick","x":33.5,"y":15.5},{"k":"c10u","T":"1.0 K","w":"thick","x":35,"y":16.4},{"k":"c10u","T":"1.0 K","w":"thick","x":38,"y":16.3},{"k":"c10u","T":"1.0 K","w":"thick","x":42,"y":15.6},{"k":"c10u","T":"1.0 K","w":"thick","x":46,"y":14.7},{"k":"c10u","T":"1.0 K","w":"thick","x":50,"y":13.6},{"k":"c10u","T":"1.0 K","w":"thick","x":54,"y":12.4},{"k":"c10u","T":"1.0 K","w":"thick","x":57,"y":11.8},{"k":"c10u","T":"1.0 K","w":"thick","x":59,"y":11.7},{"k":"c10u","T":"1.0 K","w":"thick","x":61,"y":12.1},{"k":"c10u","T":"1.0 K","w":"thick","x":63,"y":12.7},{"k":"c10u","T":"1.0 K","w":"thick","x":65,"y":13.4},
{"k":"c10l","T":"1.0 K","w":"thick","x":10,"y":9.9},{"k":"c10l","T":"1.0 K","w":"thick","x":15,"y":10.2},{"k":"c10l","T":"1.0 K","w":"thick","x":20,"y":10.5},{"k":"c10l","T":"1.0 K","w":"thick","x":25,"y":10.8},{"k":"c10l","T":"1.0 K","w":"thick","x":30,"y":11.1},{"k":"c10l","T":"1.0 K","w":"thick","x":32,"y":10.9},{"k":"c10l","T":"1.0 K","w":"thick","x":33.5,"y":9.4},{"k":"c10l","T":"1.0 K","w":"thick","x":36,"y":9.3},{"k":"c10l","T":"1.0 K","w":"thick","x":40,"y":9.4},{"k":"c10l","T":"1.0 K","w":"thick","x":45,"y":9.6},{"k":"c10l","T":"1.0 K","w":"thick","x":50,"y":9.8},{"k":"c10l","T":"1.0 K","w":"thick","x":55,"y":10.0},{"k":"c10l","T":"1.0 K","w":"thick","x":58,"y":10.4},{"k":"c10l","T":"1.0 K","w":"thick","x":59,"y":10.3},{"k":"c10l","T":"1.0 K","w":"thick","x":61,"y":9.7},{"k":"c10l","T":"1.0 K","w":"thick","x":63,"y":9.2},{"k":"c10l","T":"1.0 K","w":"thick","x":65,"y":8.7},
{"k":"c05u","T":"0.5 K","w":"thick","x":10,"y":3.0},{"k":"c05u","T":"0.5 K","w":"thick","x":15,"y":3.4},{"k":"c05u","T":"0.5 K","w":"thick","x":20,"y":3.8},{"k":"c05u","T":"0.5 K","w":"thick","x":25,"y":4.2},{"k":"c05u","T":"0.5 K","w":"thick","x":30,"y":4.5},{"k":"c05u","T":"0.5 K","w":"thick","x":32,"y":4.8},{"k":"c05u","T":"0.5 K","w":"thick","x":33.5,"y":5.6},{"k":"c05u","T":"0.5 K","w":"thick","x":35,"y":7.8},{"k":"c05u","T":"0.5 K","w":"thick","x":36.5,"y":8.7},{"k":"c05u","T":"0.5 K","w":"thick","x":38,"y":8.6},{"k":"c05u","T":"0.5 K","w":"thick","x":40,"y":8.7},{"k":"c05u","T":"0.5 K","w":"thick","x":43,"y":8.4},{"k":"c05u","T":"0.5 K","w":"thick","x":47,"y":8.0},{"k":"c05u","T":"0.5 K","w":"thick","x":50,"y":7.4},{"k":"c05u","T":"0.5 K","w":"thick","x":53,"y":6.6},{"k":"c05u","T":"0.5 K","w":"thick","x":56,"y":5.8},{"k":"c05u","T":"0.5 K","w":"thick","x":59,"y":5.0},{"k":"c05u","T":"0.5 K","w":"thick","x":60,"y":4.9},{"k":"c05u","T":"0.5 K","w":"thick","x":62,"y":5.3},{"k":"c05u","T":"0.5 K","w":"thick","x":65,"y":6.5},
{"k":"c05l","T":"0.5 K","w":"thick","x":10,"y":1.8},{"k":"c05l","T":"0.5 K","w":"thick","x":15,"y":2.1},{"k":"c05l","T":"0.5 K","w":"thick","x":20,"y":2.3},{"k":"c05l","T":"0.5 K","w":"thick","x":25,"y":2.6},{"k":"c05l","T":"0.5 K","w":"thick","x":29.5,"y":2.8},{"k":"c05l","T":"0.5 K","w":"thick","x":31,"y":2.5},{"k":"c05l","T":"0.5 K","w":"thick","x":32.5,"y":1.1},{"k":"c05l","T":"0.5 K","w":"thick","x":35,"y":0.9},{"k":"c05l","T":"0.5 K","w":"thick","x":40,"y":0.9},{"k":"c05l","T":"0.5 K","w":"thick","x":45,"y":1.0},{"k":"c05l","T":"0.5 K","w":"thick","x":50,"y":1.1},{"k":"c05l","T":"0.5 K","w":"thick","x":55,"y":1.3},{"k":"c05l","T":"0.5 K","w":"thick","x":57.5,"y":1.7},{"k":"c05l","T":"0.5 K","w":"thick","x":59.4,"y":2.5},{"k":"c05l","T":"0.5 K","w":"thick","x":61,"y":2.0},{"k":"c05l","T":"0.5 K","w":"thick","x":63,"y":1.4},{"k":"c05l","T":"0.5 K","w":"thick","x":65,"y":1.0}
],
"c_fill":[
{"k":"g0","x":33.5,"y":26.85,"y2":26.7},{"k":"g0","x":36,"y":27.05,"y2":26.5},{"k":"g0","x":40,"y":27.3,"y2":26.6},{"k":"g0","x":45,"y":27.6,"y2":27.3},{"k":"g0","x":46.5,"y":27.6,"y2":27.6},
{"k":"g1","x":33.5,"y":25.0,"y2":25.0},{"k":"g1","x":35.5,"y":26.2,"y2":25.0},{"k":"g1","x":38,"y":26.3,"y2":25.0},{"k":"g1","x":42,"y":26.0,"y2":25.05},{"k":"g1","x":46,"y":25.6,"y2":25.1},{"k":"g1","x":50,"y":25.3,"y2":25.15},{"k":"g1","x":52,"y":25.2,"y2":25.2},
{"k":"g2","x":33,"y":23.8,"y2":23.8},{"k":"g2","x":34.5,"y":23.9,"y2":22.9},{"k":"g2","x":38,"y":24.0,"y2":22.8},{"k":"g2","x":42,"y":24.1,"y2":23.0},{"k":"g2","x":46,"y":24.3,"y2":23.5},{"k":"g2","x":50,"y":24.5,"y2":24.2},{"k":"g2","x":52.5,"y":24.6,"y2":24.6},
{"k":"g3","x":32.5,"y":20.3,"y2":20.3},{"k":"g3","x":34,"y":21.3,"y2":20.31},{"k":"g3","x":35.5,"y":22.3,"y2":20.32},{"k":"g3","x":38,"y":22.0,"y2":20.35},{"k":"g3","x":42,"y":21.5,"y2":20.4},{"k":"g3","x":46,"y":21.0,"y2":20.43},{"k":"g3","x":50,"y":20.7,"y2":20.47},{"k":"g3","x":53.5,"y":20.5,"y2":20.5},
{"k":"g4","x":30,"y":18.5,"y2":18.5},{"k":"g4","x":32,"y":18.52,"y2":18.3},{"k":"g4","x":34,"y":18.55,"y2":16.9},{"k":"g4","x":38,"y":18.6,"y2":16.7},{"k":"g4","x":42,"y":18.65,"y2":17.0},{"k":"g4","x":46,"y":18.7,"y2":17.3},{"k":"g4","x":50,"y":18.75,"y2":17.8},{"k":"g4","x":54.5,"y":18.8,"y2":18.8},
{"k":"g5","x":32,"y":13.3,"y2":13.3},{"k":"g5","x":33.5,"y":15.5,"y2":13.2},{"k":"g5","x":35,"y":16.4,"y2":13.1},{"k":"g5","x":38,"y":16.3,"y2":12.95},{"k":"g5","x":42,"y":15.6,"y2":12.7},{"k":"g5","x":46,"y":14.7,"y2":12.45},{"k":"g5","x":50,"y":13.6,"y2":12.2},{"k":"g5","x":54,"y":12.4,"y2":12.0},{"k":"g5","x":57,"y":11.8,"y2":11.8},
{"k":"g6","x":30,"y":11.1,"y2":11.1},{"k":"g6","x":32,"y":11.05,"y2":10.9},{"k":"g6","x":33.5,"y":11.0,"y2":9.4},{"k":"g6","x":36,"y":10.95,"y2":9.3},{"k":"g6","x":40,"y":10.85,"y2":9.4},{"k":"g6","x":45,"y":10.7,"y2":9.6},{"k":"g6","x":50,"y":10.6,"y2":9.8},{"k":"g6","x":55,"y":10.5,"y2":10.0},{"k":"g6","x":58,"y":10.4,"y2":10.4},
{"k":"g7","x":33.5,"y":5.6,"y2":5.5},{"k":"g7","x":35,"y":7.8,"y2":5.48},{"k":"g7","x":36.5,"y":8.7,"y2":5.45},{"k":"g7","x":38,"y":8.6,"y2":5.43},{"k":"g7","x":40,"y":8.7,"y2":5.4},{"k":"g7","x":43,"y":8.4,"y2":5.35},{"k":"g7","x":47,"y":8.0,"y2":5.28},{"k":"g7","x":50,"y":7.4,"y2":5.22},{"k":"g7","x":53,"y":6.6,"y2":5.15},{"k":"g7","x":56,"y":5.8,"y2":5.05},{"k":"g7","x":59,"y":5.0,"y2":4.95},
{"k":"g8","x":29.5,"y":2.8,"y2":2.8},{"k":"g8","x":31,"y":2.78,"y2":2.5},{"k":"g8","x":32.5,"y":2.76,"y2":1.1},{"k":"g8","x":35,"y":2.74,"y2":0.9},{"k":"g8","x":40,"y":2.7,"y2":0.9},{"k":"g8","x":45,"y":2.65,"y2":1.0},{"k":"g8","x":50,"y":2.6,"y2":1.1},{"k":"g8","x":55,"y":2.56,"y2":1.3},{"k":"g8","x":57.5,"y":2.53,"y2":1.7},{"k":"g8","x":59.4,"y":2.5,"y2":2.5}
],
"c_rect":[{"x":18.7,"x2":22.3,"y":35.9,"y2":37.4},{"x":28.7,"x2":32.6,"y":32.9,"y2":34.6},{"x":35.8,"x2":39.8,"y":30.3,"y2":32.1},{"x":43.5,"x2":47.4,"y":27.7,"y2":29.5},{"x":50,"x2":54,"y":24.1,"y2":25.8},{"x":52.7,"x2":56.7,"y":18.5,"y2":20.3},{"x":57,"x2":60.7,"y":10.6,"y2":12.9},{"x":58.4,"x2":62,"y":1.9,"y2":5.4}],
"c_pts":[{"x":20.3,"y":36.6},{"x":30.6,"y":33.8},{"x":37.7,"y":31.3},{"x":45.3,"y":28.7},{"x":52.1,"y":25.0},{"x":54.7,"y":19.4},{"x":58.7,"y":11.8},{"x":60.3,"y":3.4}],
"c_lab":[{"x":10.4,"y":38.6,"t":"T: 4.0 K"},{"x":10.4,"y":33.3,"t":"3.5 K"},{"x":10.4,"y":29.9,"t":"3.0 K"},{"x":10.4,"y":26.7,"t":"2.5 K"},{"x":10.4,"y":24.1,"t":"2.0 K"},{"x":10.4,"y":20.3,"t":"1.6 K"},{"x":10.4,"y":13.0,"t":"1.0 K"},{"x":10.4,"y":5.3,"t":"0.5 K"}],
"d_lines":[
{"k":"d40a","T":"4.0 K","w":"thick","x":10,"y":6.80},{"k":"d40a","T":"4.0 K","w":"thick","x":12,"y":6.92},{"k":"d40a","T":"4.0 K","w":"thick","x":15,"y":7.0},{"k":"d40a","T":"4.0 K","w":"thick","x":17.5,"y":6.96},{"k":"d40a","T":"4.0 K","w":"thick","x":19,"y":6.85},{"k":"d40a","T":"4.0 K","w":"thick","x":20.5,"y":6.72},{"k":"d40a","T":"4.0 K","w":"thick","x":22,"y":6.85},{"k":"d40a","T":"4.0 K","w":"thick","x":24,"y":6.96},{"k":"d40a","T":"4.0 K","w":"thick","x":28,"y":6.97},{"k":"d40a","T":"4.0 K","w":"thick","x":35,"y":6.96},{"k":"d40a","T":"4.0 K","w":"thick","x":42,"y":6.95},{"k":"d40a","T":"4.0 K","w":"thick","x":50,"y":6.98},{"k":"d40a","T":"4.0 K","w":"thick","x":56,"y":6.96},{"k":"d40a","T":"4.0 K","w":"thick","x":60,"y":6.98},{"k":"d40a","T":"4.0 K","w":"thick","x":65,"y":6.96},
{"k":"d40b","T":"4.0 K","w":"thin","x":10,"y":6.78},{"k":"d40b","T":"4.0 K","w":"thin","x":13,"y":6.86},{"k":"d40b","T":"4.0 K","w":"thin","x":15,"y":6.9},{"k":"d40b","T":"4.0 K","w":"thin","x":18,"y":6.88},{"k":"d40b","T":"4.0 K","w":"thin","x":20.5,"y":6.74},{"k":"d40b","T":"4.0 K","w":"thin","x":23,"y":6.88},{"k":"d40b","T":"4.0 K","w":"thin","x":28,"y":6.9},{"k":"d40b","T":"4.0 K","w":"thin","x":35,"y":6.88},{"k":"d40b","T":"4.0 K","w":"thin","x":42,"y":6.9},{"k":"d40b","T":"4.0 K","w":"thin","x":50,"y":6.92},{"k":"d40b","T":"4.0 K","w":"thin","x":55,"y":6.88},{"k":"d40b","T":"4.0 K","w":"thin","x":60,"y":6.86},{"k":"d40b","T":"4.0 K","w":"thin","x":65,"y":6.82},
{"k":"d35a","T":"3.5 K","w":"thick","x":10,"y":5.94},{"k":"d35a","T":"3.5 K","w":"thick","x":15,"y":5.98},{"k":"d35a","T":"3.5 K","w":"thick","x":20,"y":6.02},{"k":"d35a","T":"3.5 K","w":"thick","x":24.3,"y":6.09},{"k":"d35a","T":"3.5 K","w":"thick","x":27,"y":5.97},{"k":"d35a","T":"3.5 K","w":"thick","x":29,"y":5.72},{"k":"d35a","T":"3.5 K","w":"thick","x":30.6,"y":5.6},{"k":"d35a","T":"3.5 K","w":"thick","x":32,"y":5.72},{"k":"d35a","T":"3.5 K","w":"thick","x":34,"y":5.86},{"k":"d35a","T":"3.5 K","w":"thick","x":38,"y":5.94},{"k":"d35a","T":"3.5 K","w":"thick","x":45,"y":5.96},{"k":"d35a","T":"3.5 K","w":"thick","x":52,"y":5.97},{"k":"d35a","T":"3.5 K","w":"thick","x":58,"y":5.99},{"k":"d35a","T":"3.5 K","w":"thick","x":65,"y":6.0},
{"k":"d35b","T":"3.5 K","w":"thin","x":10,"y":5.92},{"k":"d35b","T":"3.5 K","w":"thin","x":20,"y":5.98},{"k":"d35b","T":"3.5 K","w":"thin","x":25,"y":6.03},{"k":"d35b","T":"3.5 K","w":"thin","x":28,"y":5.85},{"k":"d35b","T":"3.5 K","w":"thin","x":30.6,"y":5.62},{"k":"d35b","T":"3.5 K","w":"thin","x":33,"y":5.76},{"k":"d35b","T":"3.5 K","w":"thin","x":36,"y":5.88},{"k":"d35b","T":"3.5 K","w":"thin","x":45,"y":5.9},{"k":"d35b","T":"3.5 K","w":"thin","x":55,"y":5.9},{"k":"d35b","T":"3.5 K","w":"thin","x":60,"y":5.88},{"k":"d35b","T":"3.5 K","w":"thin","x":65,"y":5.86},
{"k":"d30a","T":"3.0 K","w":"thick","x":10,"y":4.93},{"k":"d30a","T":"3.0 K","w":"thick","x":15,"y":4.96},{"k":"d30a","T":"3.0 K","w":"thick","x":20,"y":4.98},{"k":"d30a","T":"3.0 K","w":"thick","x":25,"y":5.02},{"k":"d30a","T":"3.0 K","w":"thick","x":30,"y":5.05},{"k":"d30a","T":"3.0 K","w":"thick","x":33.5,"y":5.08},{"k":"d30a","T":"3.0 K","w":"thick","x":35.5,"y":4.95},{"k":"d30a","T":"3.0 K","w":"thick","x":37.7,"y":4.62},{"k":"d30a","T":"3.0 K","w":"thick","x":39.5,"y":4.78},{"k":"d30a","T":"3.0 K","w":"thick","x":42,"y":4.93},{"k":"d30a","T":"3.0 K","w":"thick","x":46,"y":4.99},{"k":"d30a","T":"3.0 K","w":"thick","x":52,"y":5.02},{"k":"d30a","T":"3.0 K","w":"thick","x":58,"y":5.05},{"k":"d30a","T":"3.0 K","w":"thick","x":65,"y":5.07},
{"k":"d30b","T":"3.0 K","w":"thin","x":10,"y":4.92},{"k":"d30b","T":"3.0 K","w":"thin","x":20,"y":4.96},{"k":"d30b","T":"3.0 K","w":"thin","x":30,"y":5.02},{"k":"d30b","T":"3.0 K","w":"thin","x":34,"y":5.03},{"k":"d30b","T":"3.0 K","w":"thin","x":37.7,"y":4.65},{"k":"d30b","T":"3.0 K","w":"thin","x":41,"y":4.88},{"k":"d30b","T":"3.0 K","w":"thin","x":46,"y":4.95},{"k":"d30b","T":"3.0 K","w":"thin","x":55,"y":4.92},{"k":"d30b","T":"3.0 K","w":"thin","x":60,"y":4.9},{"k":"d30b","T":"3.0 K","w":"thin","x":65,"y":4.86},
{"k":"d25a","T":"2.5 K","w":"thick","x":10,"y":3.94},{"k":"d25a","T":"2.5 K","w":"thick","x":15,"y":3.97},{"k":"d25a","T":"2.5 K","w":"thick","x":20,"y":3.95},{"k":"d25a","T":"2.5 K","w":"thick","x":25,"y":3.98},{"k":"d25a","T":"2.5 K","w":"thick","x":30,"y":3.96},{"k":"d25a","T":"2.5 K","w":"thick","x":35,"y":3.98},{"k":"d25a","T":"2.5 K","w":"thick","x":40,"y":3.95},{"k":"d25a","T":"2.5 K","w":"thick","x":43,"y":3.8},{"k":"d25a","T":"2.5 K","w":"thick","x":45.3,"y":3.6},{"k":"d25a","T":"2.5 K","w":"thick","x":47,"y":3.78},{"k":"d25a","T":"2.5 K","w":"thick","x":50,"y":3.93},{"k":"d25a","T":"2.5 K","w":"thick","x":55,"y":4.0},{"k":"d25a","T":"2.5 K","w":"thick","x":60,"y":4.05},{"k":"d25a","T":"2.5 K","w":"thick","x":65,"y":3.96},
{"k":"d25b","T":"2.5 K","w":"thin","x":10,"y":3.92},{"k":"d25b","T":"2.5 K","w":"thin","x":20,"y":3.94},{"k":"d25b","T":"2.5 K","w":"thin","x":30,"y":3.98},{"k":"d25b","T":"2.5 K","w":"thin","x":40,"y":3.96},{"k":"d25b","T":"2.5 K","w":"thin","x":45,"y":3.7},{"k":"d25b","T":"2.5 K","w":"thin","x":48,"y":3.85},{"k":"d25b","T":"2.5 K","w":"thin","x":52,"y":3.95},{"k":"d25b","T":"2.5 K","w":"thin","x":58,"y":4.0},{"k":"d25b","T":"2.5 K","w":"thin","x":65,"y":3.86},
{"k":"d25c","T":"2.5 K'","w":"thick","x":28,"y":3.98},{"k":"d25c","T":"2.5 K'","w":"thick","x":31,"y":4.1},{"k":"d25c","T":"2.5 K'","w":"thick","x":33.5,"y":4.22},{"k":"d25c","T":"2.5 K'","w":"thick","x":36,"y":4.15},{"k":"d25c","T":"2.5 K'","w":"thick","x":38.5,"y":4.05},{"k":"d25c","T":"2.5 K'","w":"thick","x":41,"y":3.9},{"k":"d25c","T":"2.5 K'","w":"thick","x":43.5,"y":3.72},{"k":"d25c","T":"2.5 K'","w":"thick","x":45.3,"y":3.62},
{"k":"d20a","T":"2.0 K","w":"thick","x":10,"y":2.9},{"k":"d20a","T":"2.0 K","w":"thick","x":15,"y":2.95},{"k":"d20a","T":"2.0 K","w":"thick","x":20,"y":2.92},{"k":"d20a","T":"2.0 K","w":"thick","x":25,"y":2.95},{"k":"d20a","T":"2.0 K","w":"thick","x":28,"y":3.05},{"k":"d20a","T":"2.0 K","w":"thick","x":30,"y":3.45},{"k":"d20a","T":"2.0 K","w":"thick","x":31.5,"y":3.6},{"k":"d20a","T":"2.0 K","w":"thick","x":33,"y":3.2},{"k":"d20a","T":"2.0 K","w":"thick","x":35,"y":2.85},{"k":"d20a","T":"2.0 K","w":"thick","x":37.5,"y":2.7},{"k":"d20a","T":"2.0 K","w":"thick","x":40,"y":3.0},{"k":"d20a","T":"2.0 K","w":"thick","x":42,"y":3.2},{"k":"d20a","T":"2.0 K","w":"thick","x":45,"y":3.15},{"k":"d20a","T":"2.0 K","w":"thick","x":48,"y":3.05},{"k":"d20a","T":"2.0 K","w":"thick","x":50.5,"y":2.7},{"k":"d20a","T":"2.0 K","w":"thick","x":52,"y":2.55},{"k":"d20a","T":"2.0 K","w":"thick","x":53.5,"y":2.7},{"k":"d20a","T":"2.0 K","w":"thick","x":56,"y":2.95},{"k":"d20a","T":"2.0 K","w":"thick","x":60,"y":2.95},{"k":"d20a","T":"2.0 K","w":"thick","x":65,"y":2.85},
{"k":"d20b","T":"2.0 K","w":"thin","x":10,"y":2.88},{"k":"d20b","T":"2.0 K","w":"thin","x":20,"y":2.9},{"k":"d20b","T":"2.0 K","w":"thin","x":26,"y":2.95},{"k":"d20b","T":"2.0 K","w":"thin","x":29,"y":2.8},{"k":"d20b","T":"2.0 K","w":"thin","x":31,"y":2.9},{"k":"d20b","T":"2.0 K","w":"thin","x":33,"y":3.5},{"k":"d20b","T":"2.0 K","w":"thin","x":34.5,"y":3.55},{"k":"d20b","T":"2.0 K","w":"thin","x":36,"y":3.1},{"k":"d20b","T":"2.0 K","w":"thin","x":39,"y":2.9},{"k":"d20b","T":"2.0 K","w":"thin","x":44,"y":3.05},{"k":"d20b","T":"2.0 K","w":"thin","x":48,"y":3.0},{"k":"d20b","T":"2.0 K","w":"thin","x":51.5,"y":2.6},{"k":"d20b","T":"2.0 K","w":"thin","x":54,"y":2.85},{"k":"d20b","T":"2.0 K","w":"thin","x":58,"y":2.95},{"k":"d20b","T":"2.0 K","w":"thin","x":65,"y":2.75},
{"k":"d16a","T":"1.6 K","w":"thick","x":10,"y":1.74},{"k":"d16a","T":"1.6 K","w":"thick","x":13,"y":1.85},{"k":"d16a","T":"1.6 K","w":"thick","x":15,"y":2.0},{"k":"d16a","T":"1.6 K","w":"thick","x":17.5,"y":2.03},{"k":"d16a","T":"1.6 K","w":"thick","x":20,"y":1.92},{"k":"d16a","T":"1.6 K","w":"thick","x":23,"y":1.95},{"k":"d16a","T":"1.6 K","w":"thick","x":26,"y":1.8},{"k":"d16a","T":"1.6 K","w":"thick","x":28.5,"y":1.5},{"k":"d16a","T":"1.6 K","w":"thick","x":30.2,"y":1.16},{"k":"d16a","T":"1.6 K","w":"thick","x":31.5,"y":1.8},{"k":"d16a","T":"1.6 K","w":"thick","x":32.8,"y":3.0},{"k":"d16a","T":"1.6 K","w":"thick","x":34,"y":2.6},{"k":"d16a","T":"1.6 K","w":"thick","x":35.5,"y":1.4},{"k":"d16a","T":"1.6 K","w":"thick","x":37.4,"y":0.65},{"k":"d16a","T":"1.6 K","w":"thick","x":39,"y":1.0},{"k":"d16a","T":"1.6 K","w":"thick","x":41,"y":1.5},{"k":"d16a","T":"1.6 K","w":"thick","x":43,"y":1.75},{"k":"d16a","T":"1.6 K","w":"thick","x":46,"y":1.88},{"k":"d16a","T":"1.6 K","w":"thick","x":50,"y":2.03},{"k":"d16a","T":"1.6 K","w":"thick","x":52,"y":1.9},{"k":"d16a","T":"1.6 K","w":"thick","x":54.5,"y":1.6},{"k":"d16a","T":"1.6 K","w":"thick","x":56.5,"y":1.7},{"k":"d16a","T":"1.6 K","w":"thick","x":59,"y":2.0},{"k":"d16a","T":"1.6 K","w":"thick","x":62,"y":2.02},{"k":"d16a","T":"1.6 K","w":"thick","x":65,"y":1.96},
{"k":"d16b","T":"1.6 K","w":"thin","x":10,"y":1.72},{"k":"d16b","T":"1.6 K","w":"thin","x":15,"y":1.9},{"k":"d16b","T":"1.6 K","w":"thin","x":20,"y":2.0},{"k":"d16b","T":"1.6 K","w":"thin","x":25,"y":1.85},{"k":"d16b","T":"1.6 K","w":"thin","x":28,"y":1.65},{"k":"d16b","T":"1.6 K","w":"thin","x":30.5,"y":1.3},{"k":"d16b","T":"1.6 K","w":"thin","x":32,"y":2.2},{"k":"d16b","T":"1.6 K","w":"thin","x":33.3,"y":3.1},{"k":"d16b","T":"1.6 K","w":"thin","x":34.8,"y":2.0},{"k":"d16b","T":"1.6 K","w":"thin","x":36.5,"y":0.9},{"k":"d16b","T":"1.6 K","w":"thin","x":38.5,"y":1.2},{"k":"d16b","T":"1.6 K","w":"thin","x":42,"y":1.7},{"k":"d16b","T":"1.6 K","w":"thin","x":47,"y":1.95},{"k":"d16b","T":"1.6 K","w":"thin","x":51,"y":2.1},{"k":"d16b","T":"1.6 K","w":"thin","x":53.5,"y":1.85},{"k":"d16b","T":"1.6 K","w":"thin","x":55.5,"y":1.55},{"k":"d16b","T":"1.6 K","w":"thin","x":58,"y":1.85},{"k":"d16b","T":"1.6 K","w":"thin","x":61,"y":1.75},{"k":"d16b","T":"1.6 K","w":"thin","x":65,"y":1.74},
{"k":"d10a","T":"1.0 K","w":"thick","x":10,"y":0.58},{"k":"d10a","T":"1.0 K","w":"thick","x":13,"y":0.8},{"k":"d10a","T":"1.0 K","w":"thick","x":16,"y":1.0},{"k":"d10a","T":"1.0 K","w":"thick","x":18.5,"y":1.05},{"k":"d10a","T":"1.0 K","w":"thick","x":21,"y":0.95},{"k":"d10a","T":"1.0 K","w":"thick","x":24,"y":1.0},{"k":"d10a","T":"1.0 K","w":"thick","x":26.5,"y":0.9},{"k":"d10a","T":"1.0 K","w":"thick","x":28.9,"y":0.0},{"k":"d10a","T":"1.0 K","w":"thick","x":30.5,"y":0.8},{"k":"d10a","T":"1.0 K","w":"thick","x":32,"y":2.3},{"k":"d10a","T":"1.0 K","w":"thick","x":33,"y":2.8},{"k":"d10a","T":"1.0 K","w":"thick","x":34.2,"y":1.6},{"k":"d10a","T":"1.0 K","w":"thick","x":35.5,"y":-0.5},{"k":"d10a","T":"1.0 K","w":"thick","x":36.3,"y":-0.95},{"k":"d10a","T":"1.0 K","w":"thick","x":37.5,"y":-0.2},{"k":"d10a","T":"1.0 K","w":"thick","x":39.5,"y":0.8},{"k":"d10a","T":"1.0 K","w":"thick","x":42,"y":1.1},{"k":"d10a","T":"1.0 K","w":"thick","x":45,"y":1.0},{"k":"d10a","T":"1.0 K","w":"thick","x":48,"y":1.1},{"k":"d10a","T":"1.0 K","w":"thick","x":51,"y":1.05},{"k":"d10a","T":"1.0 K","w":"thick","x":54,"y":1.0},{"k":"d10a","T":"1.0 K","w":"thick","x":56.5,"y":0.6},{"k":"d10a","T":"1.0 K","w":"thick","x":58,"y":0.05},{"k":"d10a","T":"1.0 K","w":"thick","x":59.5,"y":0.6},{"k":"d10a","T":"1.0 K","w":"thick","x":61,"y":1.7},{"k":"d10a","T":"1.0 K","w":"thick","x":63,"y":1.74},{"k":"d10a","T":"1.0 K","w":"thick","x":65,"y":1.74},
{"k":"d10b","T":"1.0 K","w":"thin","x":10,"y":0.6},{"k":"d10b","T":"1.0 K","w":"thin","x":14,"y":0.85},{"k":"d10b","T":"1.0 K","w":"thin","x":17,"y":1.1},{"k":"d10b","T":"1.0 K","w":"thin","x":20,"y":1.0},{"k":"d10b","T":"1.0 K","w":"thin","x":23,"y":1.1},{"k":"d10b","T":"1.0 K","w":"thin","x":27,"y":0.7},{"k":"d10b","T":"1.0 K","w":"thin","x":29.5,"y":0.1},{"k":"d10b","T":"1.0 K","w":"thin","x":31.5,"y":1.5},{"k":"d10b","T":"1.0 K","w":"thin","x":32.8,"y":2.9},{"k":"d10b","T":"1.0 K","w":"thin","x":34,"y":2.0},{"k":"d10b","T":"1.0 K","w":"thin","x":35.8,"y":-0.6},{"k":"d10b","T":"1.0 K","w":"thin","x":37,"y":-0.8},{"k":"d10b","T":"1.0 K","w":"thin","x":39,"y":0.3},{"k":"d10b","T":"1.0 K","w":"thin","x":41,"y":1.0},{"k":"d10b","T":"1.0 K","w":"thin","x":44,"y":1.15},{"k":"d10b","T":"1.0 K","w":"thin","x":48,"y":0.95},{"k":"d10b","T":"1.0 K","w":"thin","x":52,"y":1.1},{"k":"d10b","T":"1.0 K","w":"thin","x":55,"y":1.05},{"k":"d10b","T":"1.0 K","w":"thin","x":57,"y":0.5},{"k":"d10b","T":"1.0 K","w":"thin","x":58.6,"y":0.0},{"k":"d10b","T":"1.0 K","w":"thin","x":60.5,"y":0.4},{"k":"d10b","T":"1.0 K","w":"thin","x":62,"y":0.58},{"k":"d10b","T":"1.0 K","w":"thin","x":65,"y":0.58},
{"k":"d05a","T":"0.5 K","w":"thick","x":10,"y":-0.5},{"k":"d05a","T":"0.5 K","w":"thick","x":12,"y":-0.35},{"k":"d05a","T":"0.5 K","w":"thick","x":14,"y":-0.15},{"k":"d05a","T":"0.5 K","w":"thick","x":16,"y":-0.2},{"k":"d05a","T":"0.5 K","w":"thick","x":18.5,"y":0.07},{"k":"d05a","T":"0.5 K","w":"thick","x":21,"y":0.0},{"k":"d05a","T":"0.5 K","w":"thick","x":23,"y":-0.05},{"k":"d05a","T":"0.5 K","w":"thick","x":25,"y":-0.1},{"k":"d05a","T":"0.5 K","w":"thick","x":27,"y":-0.6},{"k":"d05a","T":"0.5 K","w":"thick","x":28.5,"y":-1.2},{"k":"d05a","T":"0.5 K","w":"thick","x":30,"y":-0.5},{"k":"d05a","T":"0.5 K","w":"thick","x":31.5,"y":0.5},{"k":"d05a","T":"0.5 K","w":"thick","x":33,"y":1.2},{"k":"d05a","T":"0.5 K","w":"thick","x":34.2,"y":0.6},{"k":"d05a","T":"0.5 K","w":"thick","x":35.3,"y":-1.2},{"k":"d05a","T":"0.5 K","w":"thick","x":36.2,"y":-2.3},{"k":"d05a","T":"0.5 K","w":"thick","x":37.5,"y":-1.0},{"k":"d05a","T":"0.5 K","w":"thick","x":39,"y":-0.2},{"k":"d05a","T":"0.5 K","w":"thick","x":41,"y":0.0},{"k":"d05a","T":"0.5 K","w":"thick","x":43,"y":-0.1},{"k":"d05a","T":"0.5 K","w":"thick","x":45,"y":0.1},{"k":"d05a","T":"0.5 K","w":"thick","x":47,"y":-0.05},{"k":"d05a","T":"0.5 K","w":"thick","x":49,"y":-0.2},{"k":"d05a","T":"0.5 K","w":"thick","x":51,"y":0.1},{"k":"d05a","T":"0.5 K","w":"thick","x":53,"y":0.0},{"k":"d05a","T":"0.5 K","w":"thick","x":55,"y":0.2},{"k":"d05a","T":"0.5 K","w":"thick","x":56.5,"y":-0.2},{"k":"d05a","T":"0.5 K","w":"thick","x":57.8,"y":-1.1},{"k":"d05a","T":"0.5 K","w":"thick","x":59.3,"y":-1.15},{"k":"d05a","T":"0.5 K","w":"thick","x":60.3,"y":0.2},{"k":"d05a","T":"0.5 K","w":"thick","x":61.2,"y":1.2},{"k":"d05a","T":"0.5 K","w":"thick","x":63,"y":1.23},{"k":"d05a","T":"0.5 K","w":"thick","x":65,"y":1.23},
{"k":"d05b","T":"0.5 K","w":"thin","x":10,"y":-0.52},{"k":"d05b","T":"0.5 K","w":"thin","x":13,"y":-0.3},{"k":"d05b","T":"0.5 K","w":"thin","x":15,"y":-0.25},{"k":"d05b","T":"0.5 K","w":"thin","x":17,"y":0.0},{"k":"d05b","T":"0.5 K","w":"thin","x":20,"y":-0.05},{"k":"d05b","T":"0.5 K","w":"thin","x":24,"y":0.0},{"k":"d05b","T":"0.5 K","w":"thin","x":26.5,"y":-0.4},{"k":"d05b","T":"0.5 K","w":"thin","x":28.5,"y":-1.1},{"k":"d05b","T":"0.5 K","w":"thin","x":30.5,"y":-0.3},{"k":"d05b","T":"0.5 K","w":"thin","x":32.2,"y":0.8},{"k":"d05b","T":"0.5 K","w":"thin","x":33.8,"y":1.3},{"k":"d05b","T":"0.5 K","w":"thin","x":35,"y":0.2},{"k":"d05b","T":"0.5 K","w":"thin","x":36,"y":-1.5},{"k":"d05b","T":"0.5 K","w":"thin","x":37,"y":-2.3},{"k":"d05b","T":"0.5 K","w":"thin","x":38.5,"y":-1.2},{"k":"d05b","T":"0.5 K","w":"thin","x":40.5,"y":-0.05},{"k":"d05b","T":"0.5 K","w":"thin","x":44,"y":0.05},{"k":"d05b","T":"0.5 K","w":"thin","x":47,"y":-0.1},{"k":"d05b","T":"0.5 K","w":"thin","x":50,"y":0.05},{"k":"d05b","T":"0.5 K","w":"thin","x":54,"y":-0.05},{"k":"d05b","T":"0.5 K","w":"thin","x":57,"y":-0.5},{"k":"d05b","T":"0.5 K","w":"thin","x":58.7,"y":-1.15},{"k":"d05b","T":"0.5 K","w":"thin","x":60.2,"y":-0.6},{"k":"d05b","T":"0.5 K","w":"thin","x":62,"y":-0.65},{"k":"d05b","T":"0.5 K","w":"thin","x":65,"y":-0.65}
],
"d_fill":[{"y":5.75,"x":30,"x2":30.4},{"y":4.55,"x":30,"x2":37.7},{"y":3.5,"x":30,"x2":45.3},{"y":2.6,"x":30,"x2":51.8},{"y":1.5,"x":30,"x2":55.0},{"y":-1.96,"x":30,"x2":59.5}],
"d_rect":[{"x":18.8,"x2":22.3,"y":6.5,"y2":6.95},{"x":28.1,"x2":31.7,"y":5.43,"y2":5.8},{"x":35.8,"x2":39.4,"y":4.42,"y2":4.78},{"x":43.3,"x2":46.6,"y":3.48,"y2":3.84},{"x":49.8,"x2":53.8,"y":2.46,"y2":3.04},{"x":52.4,"x2":56.4,"y":1.55,"y2":2.1},{"x":57.4,"x2":61.3,"y":-1.2,"y2":1.52}],
"d_pts":[{"x":20.5,"y":6.72},{"x":30.6,"y":5.6},{"x":37.7,"y":4.62},{"x":45.3,"y":3.6},{"x":51.9,"y":2.72},{"x":54.8,"y":1.74},{"x":58.4,"y":0.8},{"x":59.7,"y":0.0}],
"d_dot":[{"x":20.5,"y":6.72},{"x":30.6,"y":5.6}]
},
"spacing":14,
"resolve":{"scale":{"color":"independent","strokeWidth":"independent"}},
"hconcat":[
{"spacing":6,"resolve":{"scale":{"color":"independent","strokeWidth":"independent"}},"hconcat":[
{"width":141,"height":217,
"title":{"text":"a","orient":"left","anchor":"end","angle":0,"font":"Liberation Sans","fontSize":23,"fontWeight":"bold","offset":-22,"dy":-18,"baseline":"top","align":"right"},
"resolve":{"axis":{"x":"independent","y":"independent"}},
"encoding":{"x":{"field":"x","type":"quantitative","scale":{"domain":[10,60],"nice":false,"zero":false},"axis":null},"y":{"field":"y","type":"quantitative","scale":{"domain":[0,30],"nice":false,"zero":false},"axis":null}},
"layer":[
{"data":{"name":"a_fill"},"mark":{"type":"area","color":"#f59cf5","opacity":1},
"encoding":{"x":{"field":"x","type":"quantitative","scale":{"domain":[10,60],"nice":false,"zero":false},"axis":{"orient":"bottom","values":[10,15,20,25,30,35,40,45,50,55,60],"labelExpr":"datum.value % 10 == 0 ? datum.label : ''","title":"Field (T)"}},
"y":{"field":"y","type":"quantitative","scale":{"domain":[0,30],"nice":false,"zero":false},"axis":{"orient":"left","values":[0,5,10,15,20,25,30],"labelExpr":"datum.value % 10 == 0 && datum.value > 0 ? datum.label : ''","title":"ρ (μΩcm)","titlePadding":3}},
"y2":{"field":"y2"},"detail":{"field":"k"}}},
{"data":{"name":"a_rect"},"mark":{"type":"rect","color":"#2e8b2e","opacity":0.72},
"encoding":{"x":{"field":"x","type":"quantitative","scale":{"domain":[10,60],"nice":false,"zero":false},"axis":{"orient":"top","values":[10,15,20,25,30,35,40,45,50,55,60],"labels":false,"title":null,"domain":false}},
"x2":{"field":"x2"},
"y":{"field":"y","type":"quantitative","scale":{"domain":[0,30],"nice":false,"zero":false},"axis":{"orient":"right","values":[0,5,10,15,20,25,30],"labels":false,"title":null,"domain":false}},
"y2":{"field":"y2"}}},
{"data":{"name":"a_pts"},"mark":{"type":"line","color":"#8fcf8f","strokeWidth":1,"strokeDash":[1,2]},"encoding":{}},
{"data":{"name":"a_lines"},"mark":{"type":"line","clip":true},
"encoding":{"color":{"field":"T","type":"nominal","legend":null,"scale":{"domain":["4.0 K","2.5 K","2.0 K","1.5 K","0.5 K"],"range":["#1b8a1b","#ff00ff","#0000ff","#ff0000","#000000"]}},
"strokeWidth":{"field":"w","type":"nominal","legend":null,"scale":{"domain":["thick","thin"],"range":[1.4,0.8]}},"detail":{"field":"k"}}},
{"data":{"name":"a_pts"},"mark":{"type":"point","shape":"diamond","filled":true,"color":"black","size":32,"opacity":1},"encoding":{}},
{"data":{"name":"a_lab"},"mark":{"type":"text","align":"left","baseline":"middle","fontSize":14,"font":"Liberation Serif","color":"black"},"encoding":{"text":{"field":"t"}}},
{"data":{"values":[{"x":10,"y":30,"t":"p = 0 kbar"}]},"mark":{"type":"text","align":"left","baseline":"bottom","dx":2,"dy":-1,"fontSize":14,"font":"Liberation Serif","color":"black"},"encoding":{"text":{"field":"t"}}}
]},
{"width":138,"height":217,
"title":{"text":"b","orient":"left","anchor":"end","angle":0,"font":"Liberation Sans","fontSize":23,"fontWeight":"bold","offset":-22,"dy":-18,"baseline":"top","align":"right"},
"resolve":{"axis":{"x":"independent","y":"independent"}},
"encoding":{"x":{"field":"x","type":"quantitative","scale":{"domain":[10,60],"nice":false,"zero":false},"axis":null},"y":{"field":"y","type":"quantitative","scale":{"domain":[-0.29,1.5],"nice":false,"zero":false},"axis":null}},
"layer":[
{"data":{"name":"b_fill"},"mark":{"type":"area","orient":"horizontal","color":"#ff9cff","opacity":1},
"encoding":{"x":{"field":"x","type":"quantitative","scale":{"domain":[10,60],"nice":false,"zero":false},"axis":{"orient":"bottom","values":[10,15,20,25,30,35,40,45,50,55,60],"labelExpr":"datum.value % 10 == 0 ? datum.label : ''","title":"Field (T)"}},
"x2":{"field":"x2"},
"y":{"field":"y","type":"quantitative","scale":{"domain":[-0.29,1.5],"nice":false,"zero":false},"axis":{"orient":"left","values":[-0.2,0,0.2,0.4,0.6,0.8,1,1.2,1.4],"labelExpr":"datum.value == 0 ? '0' : (datum.value == 1 ? '1' : '')","title":"d²ρ/dB² (arb. unit)","titlePadding":-2}}}},
{"data":{"name":"b_rect"},"mark":{"type":"rect","color":"#2e8b2e","opacity":0.72},
"encoding":{"x":{"field":"x","type":"quantitative","scale":{"domain":[10,60],"nice":false,"zero":false},"axis":{"orient":"top","values":[10,15,20,25,30,35,40,45,50,55,60],"labels":false,"title":null,"domain":false}},
"x2":{"field":"x2"},
"y":{"field":"y","type":"quantitative","scale":{"domain":[-0.29,1.5],"nice":false,"zero":false},"axis":{"orient":"right","values":[-0.2,0,0.2,0.4,0.6,0.8,1,1.2,1.4],"labels":false,"title":null,"domain":false}},
"y2":{"field":"y2"}}},
{"data":{"name":"b_lines"},"mark":{"type":"line","clip":true},
"encoding":{"color":{"field":"T","type":"nominal","legend":null,"scale":{"domain":["4.0 K","2.5 K","2.0 K","1.5 K","0.5 K"],"range":["#1b8a1b","#ff00ff","#0000ff","#ff0000","#000000"]}},
"strokeWidth":{"field":"w","type":"nominal","legend":null,"scale":{"domain":["thick","thin"],"range":[1.7,0.8]}},"detail":{"field":"k"}}},
{"data":{"name":"b_pts"},"mark":{"type":"point","shape":"diamond","filled":true,"color":"black","size":32,"opacity":1},"encoding":{}},
{"data":{"values":[{"x":10,"y":1.5,"t":"p = 0 kbar"}]},"mark":{"type":"text","align":"left","baseline":"bottom","dx":2,"dy":-1,"fontSize":14,"font":"Liberation Serif","color":"black"},"encoding":{"text":{"field":"t"}}}
]}
]},
{"spacing":20,"resolve":{"scale":{"color":"independent","strokeWidth":"independent"}},"hconcat":[
{"width":139,"height":217,
"title":{"text":"c","orient":"left","anchor":"end","angle":0,"font":"Liberation Sans","fontSize":23,"fontWeight":"bold","offset":-22,"dy":-18,"baseline":"top","align":"right"},
"resolve":{"axis":{"x":"independent","y":"independent"}},
"encoding":{"x":{"field":"x","type":"quantitative","scale":{"domain":[10,65],"nice":false,"zero":false},"axis":null},"y":{"field":"y","type":"quantitative","scale":{"domain":[0,40],"nice":false,"zero":false},"axis":null}},
"layer":[
{"data":{"name":"c_fill"},"mark":{"type":"area","color":"#f59cf5","opacity":1},
"encoding":{"x":{"field":"x","type":"quantitative","scale":{"domain":[10,65],"nice":false,"zero":false},"axis":{"orient":"bottom","values":[10,15,20,25,30,35,40,45,50,55,60,65],"labelExpr":"datum.value % 10 == 0 ? datum.label : ''","title":"Field (T)"}},
"y":{"field":"y","type":"quantitative","scale":{"domain":[0,40],"nice":false,"zero":false},"axis":{"orient":"left","values":[0,5,10,15,20,25,30,35,40],"labelExpr":"datum.value % 10 == 0 && datum.value > 0 ? datum.label : ''","title":"ρ (μΩcm)","titlePadding":3}},
"y2":{"field":"y2"},"detail":{"field":"k"}}},
{"data":{"name":"c_rect"},"mark":{"type":"rect","color":"#2e8b2e","opacity":0.72},
"encoding":{"x":{"field":"x","type":"quantitative","scale":{"domain":[10,65],"nice":false,"zero":false},"axis":{"orient":"top","values":[10,15,20,25,30,35,40,45,50,55,60,65],"labels":false,"title":null,"domain":false}},
"x2":{"field":"x2"},
"y":{"field":"y","type":"quantitative","scale":{"domain":[0,40],"nice":false,"zero":false},"axis":{"orient":"right","values":[0,5,10,15,20,25,30,35,40],"labels":false,"title":null,"domain":false}},
"y2":{"field":"y2"}}},
{"data":{"name":"c_pts"},"mark":{"type":"line","color":"#8fcf8f","strokeWidth":1,"strokeDash":[1,2],"interpolate":"monotone"},"encoding":{}},
{"data":{"name":"c_lines"},"mark":{"type":"line","clip":true},
"encoding":{"color":{"field":"T","type":"nominal","legend":null,"scale":{"domain":["4.0 K","3.5 K","3.0 K","2.5 K","2.0 K","1.6 K","1.0 K","0.5 K"],"range":["#800080","#9933ff","#000080","#1b8a1b","#ff00ff","#0000ff","#ff0000","#000000"]}},
"strokeWidth":{"field":"w","type":"nominal","legend":null,"scale":{"domain":["thick","thin"],"range":[1.4,0.8]}},"detail":{"field":"k"}}},
{"data":{"name":"c_pts"},"mark":{"type":"point","shape":"diamond","filled":true,"color":"black","size":32,"opacity":1},"encoding":{}},
{"data":{"name":"c_lab"},"mark":{"type":"text","align":"left","baseline":"middle","fontSize":14,"font":"Liberation Serif","color":"black"},"encoding":{"text":{"field":"t"}}},
{"data":{"values":[{"x":10,"y":40,"t":"p = 12 kbar"}]},"mark":{"type":"text","align":"left","baseline":"bottom","dx":2,"dy":-1,"fontSize":14,"font":"Liberation Serif","color":"black"},"encoding":{"text":{"field":"t"}}}
]},
{"width":139,"height":217,
"title":{"text":"d","orient":"left","anchor":"end","angle":0,"font":"Liberation Sans","fontSize":23,"fontWeight":"bold","offset":-22,"dy":-18,"baseline":"top","align":"right"},
"resolve":{"axis":{"x":"independent","y":"independent"}},
"encoding":{"x":{"field":"x","type":"quantitative","scale":{"domain":[10,65],"nice":false,"zero":false},"axis":null},"y":{"field":"y","type":"quantitative","scale":{"domain":[-1.96,7.48],"nice":false,"zero":false},"axis":null}},
"layer":[
{"data":{"name":"d_fill"},"mark":{"type":"area","orient":"horizontal","color":"#ff9cff","opacity":1},
"encoding":{"x":{"field":"x","type":"quantitative","scale":{"domain":[10,65],"nice":false,"zero":false},"axis":{"orient":"bottom","values":[10,15,20,25,30,35,40,45,50,55,60,65],"labelExpr":"datum.value % 10 == 0 ? datum.label : ''","title":"Field (T)"}},
"x2":{"field":"x2"},
"y":{"field":"y","type":"quantitative","scale":{"domain":[-1.96,7.48],"nice":false,"zero":false},"axis":{"orient":"left","values":[-1,0,1,2,3,4,5,6,7],"labelExpr":"datum.value == 0 ? '0' : (datum.value == 5 ? '5' : '')","title":"d²ρ/dB² (arb. unit)","titlePadding":-2}}}},
{"data":{"name":"d_rect"},"mark":{"type":"rect","color":"#2e8b2e","opacity":0.72},
"encoding":{"x":{"field":"x","type":"quantitative","scale":{"domain":[10,65],"nice":false,"zero":false},"axis":{"orient":"top","values":[10,15,20,25,30,35,40,45,50,55,60,65],"labels":false,"title":null,"domain":false}},
"x2":{"field":"x2"},
"y":{"field":"y","type":"quantitative","scale":{"domain":[-1.96,7.48],"nice":false,"zero":false},"axis":{"orient":"right","values":[-1,0,1,2,3,4,5,6,7],"labels":false,"title":null,"domain":false}},
"y2":{"field":"y2"}}},
{"data":{"name":"d_dot"},"mark":{"type":"line","color":"#888888","strokeWidth":1,"strokeDash":[1,2]},"encoding":{}},
{"data":{"name":"d_lines"},"mark":{"type":"line","clip":true},
"encoding":{"color":{"field":"T","type":"nominal","legend":null,"scale":{"domain":["4.0 K","3.5 K","3.0 K","2.5 K","2.0 K","1.6 K","1.0 K","0.5 K","2.5 K'"],"range":["#800080","#9933ff","#000080","#1b8a1b","#ff00ff","#0000ff","#ff0000","#000000","#5d705d"]}},
"strokeWidth":{"field":"w","type":"nominal","legend":null,"scale":{"domain":["thick","thin"],"range":[1.3,0.9]}},"detail":{"field":"k"}}},
{"data":{"name":"d_pts"},"mark":{"type":"point","shape":"diamond","filled":true,"color":"black","size":32,"opacity":1},"encoding":{}},
{"data":{"values":[{"x":10,"y":7.48,"t":"p = 12 kbar"}]},"mark":{"type":"text","align":"left","baseline":"bottom","dx":2,"dy":-1,"fontSize":14,"font":"Liberation Serif","color":"black"},"encoding":{"text":{"field":"t"}}}
]}
]}
]
}
